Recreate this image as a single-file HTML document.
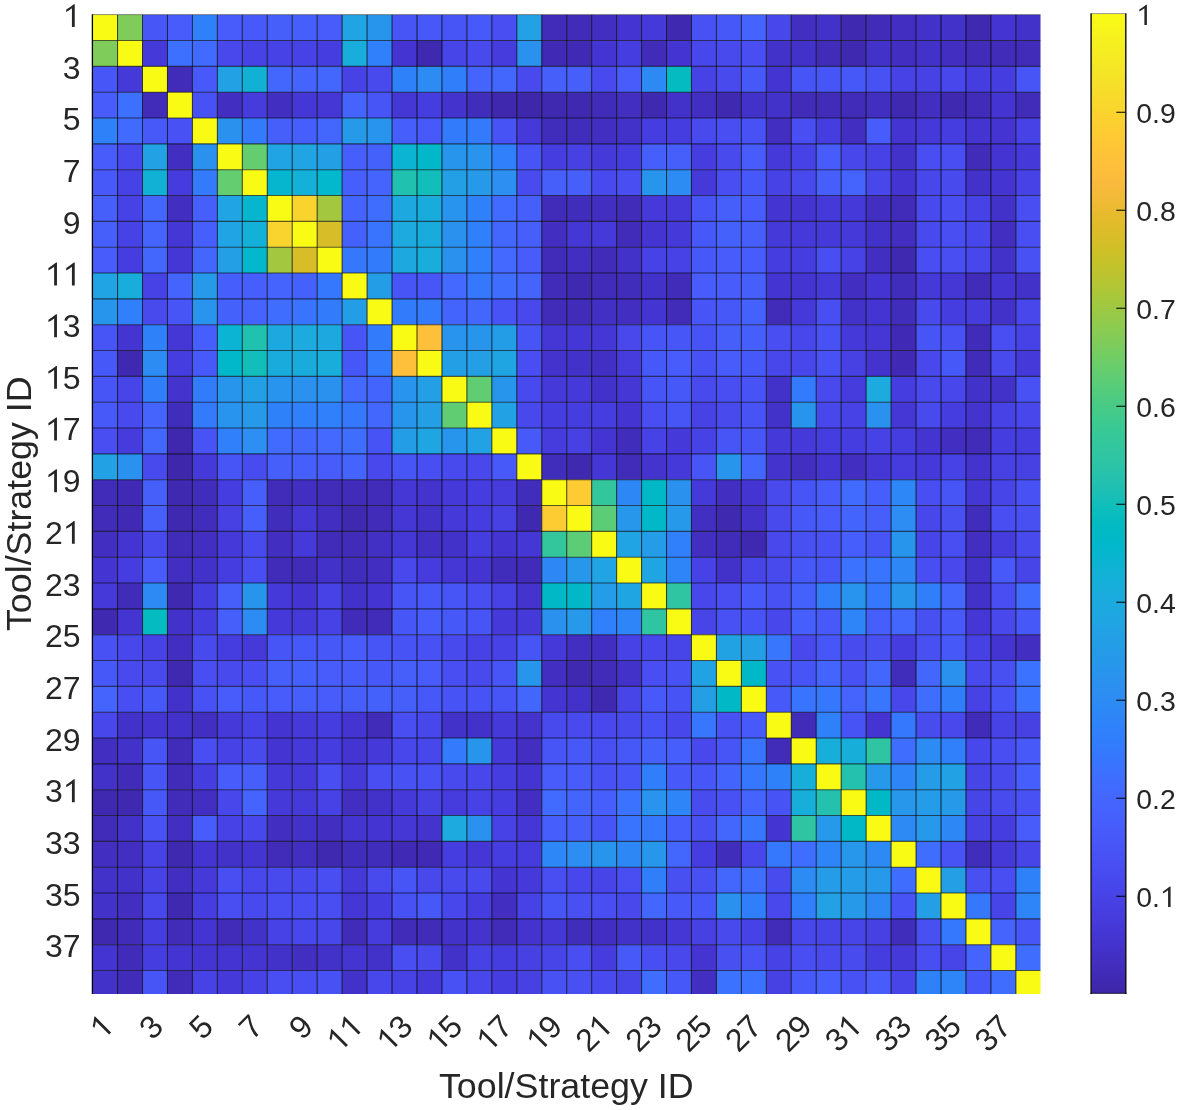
<!DOCTYPE html>
<html><head><meta charset="utf-8"><style>
html,body{margin:0;padding:0;background:#fff;width:1179px;height:1110px;overflow:hidden;position:relative;font-family:"Liberation Sans",sans-serif}
</style></head><body>
<svg width="1179" height="1110" viewBox="0 0 1179 1110" style="position:absolute;left:0;top:0;will-change:transform" font-family="Liberation Sans, sans-serif"><defs><linearGradient id="cb" x1="0" y1="1" x2="0" y2="0"><stop offset="0.0000" stop-color="#3e26a8"/><stop offset="0.0159" stop-color="#402ab4"/><stop offset="0.0317" stop-color="#422ec0"/><stop offset="0.0476" stop-color="#4332cb"/><stop offset="0.0635" stop-color="#4537d5"/><stop offset="0.0794" stop-color="#463cde"/><stop offset="0.0952" stop-color="#4741e5"/><stop offset="0.1111" stop-color="#4747eb"/><stop offset="0.1270" stop-color="#484df0"/><stop offset="0.1429" stop-color="#4852f4"/><stop offset="0.1587" stop-color="#4758f8"/><stop offset="0.1746" stop-color="#465efb"/><stop offset="0.1905" stop-color="#4563fd"/><stop offset="0.2063" stop-color="#4269fe"/><stop offset="0.2222" stop-color="#3e6fff"/><stop offset="0.2381" stop-color="#3875fe"/><stop offset="0.2540" stop-color="#327cfc"/><stop offset="0.2698" stop-color="#2f81fa"/><stop offset="0.2857" stop-color="#2e87f7"/><stop offset="0.3016" stop-color="#2d8cf3"/><stop offset="0.3175" stop-color="#2b91ef"/><stop offset="0.3333" stop-color="#2797eb"/><stop offset="0.3492" stop-color="#259be8"/><stop offset="0.3651" stop-color="#23a0e5"/><stop offset="0.3810" stop-color="#20a5e3"/><stop offset="0.3968" stop-color="#1ca9df"/><stop offset="0.4127" stop-color="#18addb"/><stop offset="0.4286" stop-color="#12b1d6"/><stop offset="0.4444" stop-color="#08b5d0"/><stop offset="0.4603" stop-color="#01b8ca"/><stop offset="0.4762" stop-color="#02bac3"/><stop offset="0.4921" stop-color="#0bbdbd"/><stop offset="0.5079" stop-color="#19bfb6"/><stop offset="0.5238" stop-color="#24c1ae"/><stop offset="0.5397" stop-color="#2cc4a7"/><stop offset="0.5556" stop-color="#31c69f"/><stop offset="0.5714" stop-color="#37c897"/><stop offset="0.5873" stop-color="#3fca8e"/><stop offset="0.6032" stop-color="#4acb84"/><stop offset="0.6190" stop-color="#57cc7a"/><stop offset="0.6349" stop-color="#64cd6f"/><stop offset="0.6508" stop-color="#72cd64"/><stop offset="0.6667" stop-color="#81cc59"/><stop offset="0.6825" stop-color="#8fcb4e"/><stop offset="0.6984" stop-color="#9dc943"/><stop offset="0.7143" stop-color="#abc739"/><stop offset="0.7302" stop-color="#b9c431"/><stop offset="0.7460" stop-color="#c5c22a"/><stop offset="0.7619" stop-color="#d1bf27"/><stop offset="0.7778" stop-color="#dcbd29"/><stop offset="0.7937" stop-color="#e6bb2d"/><stop offset="0.8095" stop-color="#f0ba36"/><stop offset="0.8254" stop-color="#f8ba3d"/><stop offset="0.8413" stop-color="#febe3c"/><stop offset="0.8571" stop-color="#fec338"/><stop offset="0.8730" stop-color="#fec934"/><stop offset="0.8889" stop-color="#fccf30"/><stop offset="0.9048" stop-color="#fad62d"/><stop offset="0.9206" stop-color="#f7dc2a"/><stop offset="0.9365" stop-color="#f5e327"/><stop offset="0.9524" stop-color="#f5e924"/><stop offset="0.9683" stop-color="#f6ef20"/><stop offset="0.9841" stop-color="#f7f51b"/><stop offset="1.0000" stop-color="#f9fb15"/></linearGradient><clipPath id="gc"><rect x="92" y="14.5" width="948.60" height="979.40"/></clipPath></defs><g clip-path="url(#gc)"><rect x="92.30" y="14.70" width="25.31" height="25.89" fill="#f9fb15"/><rect x="117.55" y="14.70" width="25.01" height="25.89" fill="#7fcc5a"/><rect x="142.51" y="14.70" width="25.01" height="25.89" fill="#4757f7"/><rect x="167.46" y="14.70" width="25.01" height="25.89" fill="#475cfa"/><rect x="192.41" y="14.70" width="25.01" height="25.89" fill="#2f81fa"/><rect x="217.37" y="14.70" width="25.01" height="25.89" fill="#475cfa"/><rect x="242.32" y="14.70" width="25.01" height="25.89" fill="#475af9"/><rect x="267.27" y="14.70" width="25.01" height="25.89" fill="#465ffb"/><rect x="292.22" y="14.70" width="25.01" height="25.89" fill="#465ffb"/><rect x="317.18" y="14.70" width="25.01" height="25.89" fill="#475cfa"/><rect x="342.13" y="14.70" width="25.01" height="25.89" fill="#20a4e3"/><rect x="367.08" y="14.70" width="25.01" height="25.89" fill="#2895ec"/><rect x="392.04" y="14.70" width="25.01" height="25.89" fill="#4755f6"/><rect x="416.99" y="14.70" width="25.01" height="25.89" fill="#4758f8"/><rect x="441.94" y="14.70" width="25.01" height="25.89" fill="#4755f6"/><rect x="466.89" y="14.70" width="25.01" height="25.89" fill="#475af9"/><rect x="491.85" y="14.70" width="25.01" height="25.89" fill="#484ef1"/><rect x="516.80" y="14.70" width="25.01" height="25.89" fill="#22a1e4"/><rect x="541.75" y="14.70" width="25.01" height="25.89" fill="#412cb9"/><rect x="566.71" y="14.70" width="25.01" height="25.89" fill="#412cb9"/><rect x="591.66" y="14.70" width="25.01" height="25.89" fill="#422ec0"/><rect x="616.61" y="14.70" width="25.01" height="25.89" fill="#4435d2"/><rect x="641.57" y="14.70" width="25.01" height="25.89" fill="#4639d9"/><rect x="666.52" y="14.70" width="25.01" height="25.89" fill="#3f29b1"/><rect x="691.47" y="14.70" width="25.01" height="25.89" fill="#4851f4"/><rect x="716.42" y="14.70" width="25.01" height="25.89" fill="#4758f8"/><rect x="741.38" y="14.70" width="25.01" height="25.89" fill="#4563fd"/><rect x="766.33" y="14.70" width="25.01" height="25.89" fill="#4747eb"/><rect x="791.28" y="14.70" width="25.01" height="25.89" fill="#422ec0"/><rect x="816.24" y="14.70" width="25.01" height="25.89" fill="#4332c9"/><rect x="841.19" y="14.70" width="25.01" height="25.89" fill="#3f29b1"/><rect x="866.14" y="14.70" width="25.01" height="25.89" fill="#412cb9"/><rect x="891.10" y="14.70" width="25.01" height="25.89" fill="#422ec0"/><rect x="916.05" y="14.70" width="25.01" height="25.89" fill="#4332c9"/><rect x="941.00" y="14.70" width="25.01" height="25.89" fill="#4332c9"/><rect x="965.96" y="14.70" width="25.01" height="25.89" fill="#3f29b1"/><rect x="990.91" y="14.70" width="25.01" height="25.89" fill="#4435d2"/><rect x="1015.86" y="14.70" width="25.01" height="25.89" fill="#4332c9"/><rect x="92.30" y="40.53" width="25.31" height="25.89" fill="#7fcc5a"/><rect x="117.55" y="40.53" width="25.01" height="25.89" fill="#f9fb15"/><rect x="142.51" y="40.53" width="25.01" height="25.89" fill="#4639d9"/><rect x="167.46" y="40.53" width="25.01" height="25.89" fill="#3d70ff"/><rect x="192.41" y="40.53" width="25.01" height="25.89" fill="#416bfe"/><rect x="217.37" y="40.53" width="25.01" height="25.89" fill="#4848ec"/><rect x="242.32" y="40.53" width="25.01" height="25.89" fill="#4742e6"/><rect x="267.27" y="40.53" width="25.01" height="25.89" fill="#4742e6"/><rect x="292.22" y="40.53" width="25.01" height="25.89" fill="#4742e6"/><rect x="317.18" y="40.53" width="25.01" height="25.89" fill="#463de0"/><rect x="342.13" y="40.53" width="25.01" height="25.89" fill="#19addc"/><rect x="367.08" y="40.53" width="25.01" height="25.89" fill="#3080fb"/><rect x="392.04" y="40.53" width="25.01" height="25.89" fill="#4435d2"/><rect x="416.99" y="40.53" width="25.01" height="25.89" fill="#3f29b1"/><rect x="441.94" y="40.53" width="25.01" height="25.89" fill="#4744e8"/><rect x="466.89" y="40.53" width="25.01" height="25.89" fill="#484aee"/><rect x="491.85" y="40.53" width="25.01" height="25.89" fill="#463bdd"/><rect x="516.80" y="40.53" width="25.01" height="25.89" fill="#2b91ef"/><rect x="541.75" y="40.53" width="25.01" height="25.89" fill="#402ab5"/><rect x="566.71" y="40.53" width="25.01" height="25.89" fill="#402ab5"/><rect x="591.66" y="40.53" width="25.01" height="25.89" fill="#4435d2"/><rect x="616.61" y="40.53" width="25.01" height="25.89" fill="#463de0"/><rect x="641.57" y="40.53" width="25.01" height="25.89" fill="#412cb9"/><rect x="666.52" y="40.53" width="25.01" height="25.89" fill="#4435d2"/><rect x="691.47" y="40.53" width="25.01" height="25.89" fill="#4747eb"/><rect x="716.42" y="40.53" width="25.01" height="25.89" fill="#484aee"/><rect x="741.38" y="40.53" width="25.01" height="25.89" fill="#484ef1"/><rect x="766.33" y="40.53" width="25.01" height="25.89" fill="#4332c9"/><rect x="791.28" y="40.53" width="25.01" height="25.89" fill="#4332c9"/><rect x="816.24" y="40.53" width="25.01" height="25.89" fill="#412cb9"/><rect x="841.19" y="40.53" width="25.01" height="25.89" fill="#3f29b1"/><rect x="866.14" y="40.53" width="25.01" height="25.89" fill="#4332c9"/><rect x="891.10" y="40.53" width="25.01" height="25.89" fill="#422ec0"/><rect x="916.05" y="40.53" width="25.01" height="25.89" fill="#4332c9"/><rect x="941.00" y="40.53" width="25.01" height="25.89" fill="#422ec0"/><rect x="965.96" y="40.53" width="25.01" height="25.89" fill="#412cb9"/><rect x="990.91" y="40.53" width="25.01" height="25.89" fill="#412cb9"/><rect x="1015.86" y="40.53" width="25.01" height="25.89" fill="#412cb9"/><rect x="92.30" y="66.37" width="25.31" height="25.89" fill="#4757f7"/><rect x="117.55" y="66.37" width="25.01" height="25.89" fill="#4639d9"/><rect x="142.51" y="66.37" width="25.01" height="25.89" fill="#f9fb15"/><rect x="167.46" y="66.37" width="25.01" height="25.89" fill="#412cb9"/><rect x="192.41" y="66.37" width="25.01" height="25.89" fill="#475af9"/><rect x="217.37" y="66.37" width="25.01" height="25.89" fill="#22a1e4"/><rect x="242.32" y="66.37" width="25.01" height="25.89" fill="#11b1d6"/><rect x="267.27" y="66.37" width="25.01" height="25.89" fill="#4367fd"/><rect x="292.22" y="66.37" width="25.01" height="25.89" fill="#4563fd"/><rect x="317.18" y="66.37" width="25.01" height="25.89" fill="#4367fd"/><rect x="342.13" y="66.37" width="25.01" height="25.89" fill="#4742e6"/><rect x="367.08" y="66.37" width="25.01" height="25.89" fill="#484aee"/><rect x="392.04" y="66.37" width="25.01" height="25.89" fill="#2f81fa"/><rect x="416.99" y="66.37" width="25.01" height="25.89" fill="#2d8cf3"/><rect x="441.94" y="66.37" width="25.01" height="25.89" fill="#317efb"/><rect x="466.89" y="66.37" width="25.01" height="25.89" fill="#4563fd"/><rect x="491.85" y="66.37" width="25.01" height="25.89" fill="#4367fd"/><rect x="516.80" y="66.37" width="25.01" height="25.89" fill="#484aee"/><rect x="541.75" y="66.37" width="25.01" height="25.89" fill="#465ffb"/><rect x="566.71" y="66.37" width="25.01" height="25.89" fill="#465ffb"/><rect x="591.66" y="66.37" width="25.01" height="25.89" fill="#484aee"/><rect x="616.61" y="66.37" width="25.01" height="25.89" fill="#475cfa"/><rect x="641.57" y="66.37" width="25.01" height="25.89" fill="#2d8af4"/><rect x="666.52" y="66.37" width="25.01" height="25.89" fill="#04bbc2"/><rect x="691.47" y="66.37" width="25.01" height="25.89" fill="#4742e6"/><rect x="716.42" y="66.37" width="25.01" height="25.89" fill="#484aee"/><rect x="741.38" y="66.37" width="25.01" height="25.89" fill="#4758f8"/><rect x="766.33" y="66.37" width="25.01" height="25.89" fill="#4435d2"/><rect x="791.28" y="66.37" width="25.01" height="25.89" fill="#4755f6"/><rect x="816.24" y="66.37" width="25.01" height="25.89" fill="#4755f6"/><rect x="841.19" y="66.37" width="25.01" height="25.89" fill="#4758f8"/><rect x="866.14" y="66.37" width="25.01" height="25.89" fill="#4851f4"/><rect x="891.10" y="66.37" width="25.01" height="25.89" fill="#4742e6"/><rect x="916.05" y="66.37" width="25.01" height="25.89" fill="#4742e6"/><rect x="941.00" y="66.37" width="25.01" height="25.89" fill="#4747eb"/><rect x="965.96" y="66.37" width="25.01" height="25.89" fill="#463de0"/><rect x="990.91" y="66.37" width="25.01" height="25.89" fill="#463de0"/><rect x="1015.86" y="66.37" width="25.01" height="25.89" fill="#4755f6"/><rect x="92.30" y="92.20" width="25.31" height="25.89" fill="#475cfa"/><rect x="117.55" y="92.20" width="25.01" height="25.89" fill="#3d70ff"/><rect x="142.51" y="92.20" width="25.01" height="25.89" fill="#412cb9"/><rect x="167.46" y="92.20" width="25.01" height="25.89" fill="#f9fb15"/><rect x="192.41" y="92.20" width="25.01" height="25.89" fill="#4851f4"/><rect x="217.37" y="92.20" width="25.01" height="25.89" fill="#422ec0"/><rect x="242.32" y="92.20" width="25.01" height="25.89" fill="#463bdd"/><rect x="267.27" y="92.20" width="25.01" height="25.89" fill="#422ec0"/><rect x="292.22" y="92.20" width="25.01" height="25.89" fill="#4537d6"/><rect x="317.18" y="92.20" width="25.01" height="25.89" fill="#4537d6"/><rect x="342.13" y="92.20" width="25.01" height="25.89" fill="#4563fd"/><rect x="367.08" y="92.20" width="25.01" height="25.89" fill="#4755f6"/><rect x="392.04" y="92.20" width="25.01" height="25.89" fill="#4537d6"/><rect x="416.99" y="92.20" width="25.01" height="25.89" fill="#463de0"/><rect x="441.94" y="92.20" width="25.01" height="25.89" fill="#4433cd"/><rect x="466.89" y="92.20" width="25.01" height="25.89" fill="#412dbc"/><rect x="491.85" y="92.20" width="25.01" height="25.89" fill="#3f28ae"/><rect x="516.80" y="92.20" width="25.01" height="25.89" fill="#3e27ab"/><rect x="541.75" y="92.20" width="25.01" height="25.89" fill="#3f29b1"/><rect x="566.71" y="92.20" width="25.01" height="25.89" fill="#3f29b1"/><rect x="591.66" y="92.20" width="25.01" height="25.89" fill="#412cb9"/><rect x="616.61" y="92.20" width="25.01" height="25.89" fill="#422ec0"/><rect x="641.57" y="92.20" width="25.01" height="25.89" fill="#3f29b1"/><rect x="666.52" y="92.20" width="25.01" height="25.89" fill="#4332c9"/><rect x="691.47" y="92.20" width="25.01" height="25.89" fill="#422ec0"/><rect x="716.42" y="92.20" width="25.01" height="25.89" fill="#3f29b1"/><rect x="741.38" y="92.20" width="25.01" height="25.89" fill="#4332c9"/><rect x="766.33" y="92.20" width="25.01" height="25.89" fill="#4332c9"/><rect x="791.28" y="92.20" width="25.01" height="25.89" fill="#412cb9"/><rect x="816.24" y="92.20" width="25.01" height="25.89" fill="#412cb9"/><rect x="841.19" y="92.20" width="25.01" height="25.89" fill="#412cb9"/><rect x="866.14" y="92.20" width="25.01" height="25.89" fill="#422ec0"/><rect x="891.10" y="92.20" width="25.01" height="25.89" fill="#3f29b1"/><rect x="916.05" y="92.20" width="25.01" height="25.89" fill="#422ec0"/><rect x="941.00" y="92.20" width="25.01" height="25.89" fill="#3f29b1"/><rect x="965.96" y="92.20" width="25.01" height="25.89" fill="#412cb9"/><rect x="990.91" y="92.20" width="25.01" height="25.89" fill="#4435d2"/><rect x="1015.86" y="92.20" width="25.01" height="25.89" fill="#412cb9"/><rect x="92.30" y="118.03" width="25.31" height="25.89" fill="#2f81fa"/><rect x="117.55" y="118.03" width="25.01" height="25.89" fill="#416bfe"/><rect x="142.51" y="118.03" width="25.01" height="25.89" fill="#475af9"/><rect x="167.46" y="118.03" width="25.01" height="25.89" fill="#4851f4"/><rect x="192.41" y="118.03" width="25.01" height="25.89" fill="#f9fb15"/><rect x="217.37" y="118.03" width="25.01" height="25.89" fill="#2a92ee"/><rect x="242.32" y="118.03" width="25.01" height="25.89" fill="#347afd"/><rect x="267.27" y="118.03" width="25.01" height="25.89" fill="#465ffb"/><rect x="292.22" y="118.03" width="25.01" height="25.89" fill="#465efb"/><rect x="317.18" y="118.03" width="25.01" height="25.89" fill="#4367fd"/><rect x="342.13" y="118.03" width="25.01" height="25.89" fill="#269ae8"/><rect x="367.08" y="118.03" width="25.01" height="25.89" fill="#2994ed"/><rect x="392.04" y="118.03" width="25.01" height="25.89" fill="#465efb"/><rect x="416.99" y="118.03" width="25.01" height="25.89" fill="#475af9"/><rect x="441.94" y="118.03" width="25.01" height="25.89" fill="#327cfc"/><rect x="466.89" y="118.03" width="25.01" height="25.89" fill="#347afd"/><rect x="491.85" y="118.03" width="25.01" height="25.89" fill="#4853f5"/><rect x="516.80" y="118.03" width="25.01" height="25.89" fill="#4639d9"/><rect x="541.75" y="118.03" width="25.01" height="25.89" fill="#412dbc"/><rect x="566.71" y="118.03" width="25.01" height="25.89" fill="#412dbc"/><rect x="591.66" y="118.03" width="25.01" height="25.89" fill="#422ec0"/><rect x="616.61" y="118.03" width="25.01" height="25.89" fill="#4332c9"/><rect x="641.57" y="118.03" width="25.01" height="25.89" fill="#463de0"/><rect x="666.52" y="118.03" width="25.01" height="25.89" fill="#463de0"/><rect x="691.47" y="118.03" width="25.01" height="25.89" fill="#484aee"/><rect x="716.42" y="118.03" width="25.01" height="25.89" fill="#484ef1"/><rect x="741.38" y="118.03" width="25.01" height="25.89" fill="#4851f4"/><rect x="766.33" y="118.03" width="25.01" height="25.89" fill="#422ec0"/><rect x="791.28" y="118.03" width="25.01" height="25.89" fill="#484ef1"/><rect x="816.24" y="118.03" width="25.01" height="25.89" fill="#463de0"/><rect x="841.19" y="118.03" width="25.01" height="25.89" fill="#422ec0"/><rect x="866.14" y="118.03" width="25.01" height="25.89" fill="#475cfa"/><rect x="891.10" y="118.03" width="25.01" height="25.89" fill="#4435d2"/><rect x="916.05" y="118.03" width="25.01" height="25.89" fill="#4639d9"/><rect x="941.00" y="118.03" width="25.01" height="25.89" fill="#463de0"/><rect x="965.96" y="118.03" width="25.01" height="25.89" fill="#4435d2"/><rect x="990.91" y="118.03" width="25.01" height="25.89" fill="#4435d2"/><rect x="1015.86" y="118.03" width="25.01" height="25.89" fill="#4742e6"/><rect x="92.30" y="143.86" width="25.31" height="25.89" fill="#475cfa"/><rect x="117.55" y="143.86" width="25.01" height="25.89" fill="#4848ec"/><rect x="142.51" y="143.86" width="25.01" height="25.89" fill="#22a1e4"/><rect x="167.46" y="143.86" width="25.01" height="25.89" fill="#422ec0"/><rect x="192.41" y="143.86" width="25.01" height="25.89" fill="#2a92ee"/><rect x="217.37" y="143.86" width="25.01" height="25.89" fill="#f9fb15"/><rect x="242.32" y="143.86" width="25.01" height="25.89" fill="#64cd6f"/><rect x="267.27" y="143.86" width="25.01" height="25.89" fill="#20a4e3"/><rect x="292.22" y="143.86" width="25.01" height="25.89" fill="#20a4e3"/><rect x="317.18" y="143.86" width="25.01" height="25.89" fill="#23a0e5"/><rect x="342.13" y="143.86" width="25.01" height="25.89" fill="#465efb"/><rect x="367.08" y="143.86" width="25.01" height="25.89" fill="#4561fc"/><rect x="392.04" y="143.86" width="25.01" height="25.89" fill="#0ab4d2"/><rect x="416.99" y="143.86" width="25.01" height="25.89" fill="#01b8ca"/><rect x="441.94" y="143.86" width="25.01" height="25.89" fill="#2895ec"/><rect x="466.89" y="143.86" width="25.01" height="25.89" fill="#2994ed"/><rect x="491.85" y="143.86" width="25.01" height="25.89" fill="#3080fb"/><rect x="516.80" y="143.86" width="25.01" height="25.89" fill="#4755f6"/><rect x="541.75" y="143.86" width="25.01" height="25.89" fill="#463de0"/><rect x="566.71" y="143.86" width="25.01" height="25.89" fill="#4740e3"/><rect x="591.66" y="143.86" width="25.01" height="25.89" fill="#4639d9"/><rect x="616.61" y="143.86" width="25.01" height="25.89" fill="#463de0"/><rect x="641.57" y="143.86" width="25.01" height="25.89" fill="#465ffb"/><rect x="666.52" y="143.86" width="25.01" height="25.89" fill="#465ffb"/><rect x="691.47" y="143.86" width="25.01" height="25.89" fill="#463de0"/><rect x="716.42" y="143.86" width="25.01" height="25.89" fill="#484aee"/><rect x="741.38" y="143.86" width="25.01" height="25.89" fill="#475cfa"/><rect x="766.33" y="143.86" width="25.01" height="25.89" fill="#4639d9"/><rect x="791.28" y="143.86" width="25.01" height="25.89" fill="#4742e6"/><rect x="816.24" y="143.86" width="25.01" height="25.89" fill="#475cfa"/><rect x="841.19" y="143.86" width="25.01" height="25.89" fill="#4747eb"/><rect x="866.14" y="143.86" width="25.01" height="25.89" fill="#4742e6"/><rect x="891.10" y="143.86" width="25.01" height="25.89" fill="#4332c9"/><rect x="916.05" y="143.86" width="25.01" height="25.89" fill="#484ef1"/><rect x="941.00" y="143.86" width="25.01" height="25.89" fill="#484ef1"/><rect x="965.96" y="143.86" width="25.01" height="25.89" fill="#412cb9"/><rect x="990.91" y="143.86" width="25.01" height="25.89" fill="#4435d2"/><rect x="1015.86" y="143.86" width="25.01" height="25.89" fill="#4639d9"/><rect x="92.30" y="169.70" width="25.31" height="25.89" fill="#475af9"/><rect x="117.55" y="169.70" width="25.01" height="25.89" fill="#4742e6"/><rect x="142.51" y="169.70" width="25.01" height="25.89" fill="#11b1d6"/><rect x="167.46" y="169.70" width="25.01" height="25.89" fill="#463bdd"/><rect x="192.41" y="169.70" width="25.01" height="25.89" fill="#347afd"/><rect x="217.37" y="169.70" width="25.01" height="25.89" fill="#64cd6f"/><rect x="242.32" y="169.70" width="25.01" height="25.89" fill="#f9fb15"/><rect x="267.27" y="169.70" width="25.01" height="25.89" fill="#05b6ce"/><rect x="292.22" y="169.70" width="25.01" height="25.89" fill="#13b0d7"/><rect x="317.18" y="169.70" width="25.01" height="25.89" fill="#03b7cc"/><rect x="342.13" y="169.70" width="25.01" height="25.89" fill="#465efb"/><rect x="367.08" y="169.70" width="25.01" height="25.89" fill="#4563fd"/><rect x="392.04" y="169.70" width="25.01" height="25.89" fill="#21c1b0"/><rect x="416.99" y="169.70" width="25.01" height="25.89" fill="#12beb9"/><rect x="441.94" y="169.70" width="25.01" height="25.89" fill="#23a0e5"/><rect x="466.89" y="169.70" width="25.01" height="25.89" fill="#269ae8"/><rect x="491.85" y="169.70" width="25.01" height="25.89" fill="#2c8ff1"/><rect x="516.80" y="169.70" width="25.01" height="25.89" fill="#484cef"/><rect x="541.75" y="169.70" width="25.01" height="25.89" fill="#465ffb"/><rect x="566.71" y="169.70" width="25.01" height="25.89" fill="#465ffb"/><rect x="591.66" y="169.70" width="25.01" height="25.89" fill="#484aee"/><rect x="616.61" y="169.70" width="25.01" height="25.89" fill="#484ef1"/><rect x="641.57" y="169.70" width="25.01" height="25.89" fill="#2895ec"/><rect x="666.52" y="169.70" width="25.01" height="25.89" fill="#2d8cf3"/><rect x="691.47" y="169.70" width="25.01" height="25.89" fill="#4639d9"/><rect x="716.42" y="169.70" width="25.01" height="25.89" fill="#484ef1"/><rect x="741.38" y="169.70" width="25.01" height="25.89" fill="#4758f8"/><rect x="766.33" y="169.70" width="25.01" height="25.89" fill="#4742e6"/><rect x="791.28" y="169.70" width="25.01" height="25.89" fill="#484aee"/><rect x="816.24" y="169.70" width="25.01" height="25.89" fill="#465ffb"/><rect x="841.19" y="169.70" width="25.01" height="25.89" fill="#4563fd"/><rect x="866.14" y="169.70" width="25.01" height="25.89" fill="#4747eb"/><rect x="891.10" y="169.70" width="25.01" height="25.89" fill="#4435d2"/><rect x="916.05" y="169.70" width="25.01" height="25.89" fill="#4747eb"/><rect x="941.00" y="169.70" width="25.01" height="25.89" fill="#484aee"/><rect x="965.96" y="169.70" width="25.01" height="25.89" fill="#4332c9"/><rect x="990.91" y="169.70" width="25.01" height="25.89" fill="#4435d2"/><rect x="1015.86" y="169.70" width="25.01" height="25.89" fill="#4742e6"/><rect x="92.30" y="195.53" width="25.31" height="25.89" fill="#465ffb"/><rect x="117.55" y="195.53" width="25.01" height="25.89" fill="#4742e6"/><rect x="142.51" y="195.53" width="25.01" height="25.89" fill="#4367fd"/><rect x="167.46" y="195.53" width="25.01" height="25.89" fill="#422ec0"/><rect x="192.41" y="195.53" width="25.01" height="25.89" fill="#465ffb"/><rect x="217.37" y="195.53" width="25.01" height="25.89" fill="#20a4e3"/><rect x="242.32" y="195.53" width="25.01" height="25.89" fill="#05b6ce"/><rect x="267.27" y="195.53" width="25.01" height="25.89" fill="#f9fb15"/><rect x="292.22" y="195.53" width="25.01" height="25.89" fill="#fad42e"/><rect x="317.18" y="195.53" width="25.01" height="25.89" fill="#a3c83f"/><rect x="342.13" y="195.53" width="25.01" height="25.89" fill="#4563fd"/><rect x="367.08" y="195.53" width="25.01" height="25.89" fill="#3f6eff"/><rect x="392.04" y="195.53" width="25.01" height="25.89" fill="#1da9e0"/><rect x="416.99" y="195.53" width="25.01" height="25.89" fill="#1aabdd"/><rect x="441.94" y="195.53" width="25.01" height="25.89" fill="#2994ed"/><rect x="466.89" y="195.53" width="25.01" height="25.89" fill="#2f81fa"/><rect x="491.85" y="195.53" width="25.01" height="25.89" fill="#416bfe"/><rect x="516.80" y="195.53" width="25.01" height="25.89" fill="#465ffb"/><rect x="541.75" y="195.53" width="25.01" height="25.89" fill="#412cb9"/><rect x="566.71" y="195.53" width="25.01" height="25.89" fill="#412dbc"/><rect x="591.66" y="195.53" width="25.01" height="25.89" fill="#422ec0"/><rect x="616.61" y="195.53" width="25.01" height="25.89" fill="#412cb9"/><rect x="641.57" y="195.53" width="25.01" height="25.89" fill="#4639d9"/><rect x="666.52" y="195.53" width="25.01" height="25.89" fill="#4639d9"/><rect x="691.47" y="195.53" width="25.01" height="25.89" fill="#4755f6"/><rect x="716.42" y="195.53" width="25.01" height="25.89" fill="#465ffb"/><rect x="741.38" y="195.53" width="25.01" height="25.89" fill="#475cfa"/><rect x="766.33" y="195.53" width="25.01" height="25.89" fill="#4435d2"/><rect x="791.28" y="195.53" width="25.01" height="25.89" fill="#4435d2"/><rect x="816.24" y="195.53" width="25.01" height="25.89" fill="#4639d9"/><rect x="841.19" y="195.53" width="25.01" height="25.89" fill="#4639d9"/><rect x="866.14" y="195.53" width="25.01" height="25.89" fill="#422ec0"/><rect x="891.10" y="195.53" width="25.01" height="25.89" fill="#412cb9"/><rect x="916.05" y="195.53" width="25.01" height="25.89" fill="#484aee"/><rect x="941.00" y="195.53" width="25.01" height="25.89" fill="#484ef1"/><rect x="965.96" y="195.53" width="25.01" height="25.89" fill="#4742e6"/><rect x="990.91" y="195.53" width="25.01" height="25.89" fill="#4332c9"/><rect x="1015.86" y="195.53" width="25.01" height="25.89" fill="#484ef1"/><rect x="92.30" y="221.36" width="25.31" height="25.89" fill="#465ffb"/><rect x="117.55" y="221.36" width="25.01" height="25.89" fill="#4742e6"/><rect x="142.51" y="221.36" width="25.01" height="25.89" fill="#4563fd"/><rect x="167.46" y="221.36" width="25.01" height="25.89" fill="#4537d6"/><rect x="192.41" y="221.36" width="25.01" height="25.89" fill="#465efb"/><rect x="217.37" y="221.36" width="25.01" height="25.89" fill="#20a4e3"/><rect x="242.32" y="221.36" width="25.01" height="25.89" fill="#13b0d7"/><rect x="267.27" y="221.36" width="25.01" height="25.89" fill="#fad42e"/><rect x="292.22" y="221.36" width="25.01" height="25.89" fill="#f9fb15"/><rect x="317.18" y="221.36" width="25.01" height="25.89" fill="#d7be28"/><rect x="342.13" y="221.36" width="25.01" height="25.89" fill="#4561fc"/><rect x="367.08" y="221.36" width="25.01" height="25.89" fill="#3974fe"/><rect x="392.04" y="221.36" width="25.01" height="25.89" fill="#1caadf"/><rect x="416.99" y="221.36" width="25.01" height="25.89" fill="#1aabdd"/><rect x="441.94" y="221.36" width="25.01" height="25.89" fill="#2a92ee"/><rect x="466.89" y="221.36" width="25.01" height="25.89" fill="#3080fb"/><rect x="491.85" y="221.36" width="25.01" height="25.89" fill="#4367fd"/><rect x="516.80" y="221.36" width="25.01" height="25.89" fill="#465ffb"/><rect x="541.75" y="221.36" width="25.01" height="25.89" fill="#422ec0"/><rect x="566.71" y="221.36" width="25.01" height="25.89" fill="#4537d6"/><rect x="591.66" y="221.36" width="25.01" height="25.89" fill="#4639d9"/><rect x="616.61" y="221.36" width="25.01" height="25.89" fill="#412cb9"/><rect x="641.57" y="221.36" width="25.01" height="25.89" fill="#4435d2"/><rect x="666.52" y="221.36" width="25.01" height="25.89" fill="#4639d9"/><rect x="691.47" y="221.36" width="25.01" height="25.89" fill="#4758f8"/><rect x="716.42" y="221.36" width="25.01" height="25.89" fill="#4561fc"/><rect x="741.38" y="221.36" width="25.01" height="25.89" fill="#465ffb"/><rect x="766.33" y="221.36" width="25.01" height="25.89" fill="#4639d9"/><rect x="791.28" y="221.36" width="25.01" height="25.89" fill="#4639d9"/><rect x="816.24" y="221.36" width="25.01" height="25.89" fill="#4639d9"/><rect x="841.19" y="221.36" width="25.01" height="25.89" fill="#4639d9"/><rect x="866.14" y="221.36" width="25.01" height="25.89" fill="#4332c9"/><rect x="891.10" y="221.36" width="25.01" height="25.89" fill="#422ec0"/><rect x="916.05" y="221.36" width="25.01" height="25.89" fill="#484aee"/><rect x="941.00" y="221.36" width="25.01" height="25.89" fill="#484ef1"/><rect x="965.96" y="221.36" width="25.01" height="25.89" fill="#4747eb"/><rect x="990.91" y="221.36" width="25.01" height="25.89" fill="#422ec0"/><rect x="1015.86" y="221.36" width="25.01" height="25.89" fill="#484ef1"/><rect x="92.30" y="247.20" width="25.31" height="25.89" fill="#475cfa"/><rect x="117.55" y="247.20" width="25.01" height="25.89" fill="#463de0"/><rect x="142.51" y="247.20" width="25.01" height="25.89" fill="#4367fd"/><rect x="167.46" y="247.20" width="25.01" height="25.89" fill="#4537d6"/><rect x="192.41" y="247.20" width="25.01" height="25.89" fill="#4367fd"/><rect x="217.37" y="247.20" width="25.01" height="25.89" fill="#23a0e5"/><rect x="242.32" y="247.20" width="25.01" height="25.89" fill="#03b7cc"/><rect x="267.27" y="247.20" width="25.01" height="25.89" fill="#a3c83f"/><rect x="292.22" y="247.20" width="25.01" height="25.89" fill="#d7be28"/><rect x="317.18" y="247.20" width="25.01" height="25.89" fill="#f9fb15"/><rect x="342.13" y="247.20" width="25.01" height="25.89" fill="#3678fd"/><rect x="367.08" y="247.20" width="25.01" height="25.89" fill="#327cfc"/><rect x="392.04" y="247.20" width="25.01" height="25.89" fill="#1da9e0"/><rect x="416.99" y="247.20" width="25.01" height="25.89" fill="#19addc"/><rect x="441.94" y="247.20" width="25.01" height="25.89" fill="#2b91ef"/><rect x="466.89" y="247.20" width="25.01" height="25.89" fill="#3080fb"/><rect x="491.85" y="247.20" width="25.01" height="25.89" fill="#4369fe"/><rect x="516.80" y="247.20" width="25.01" height="25.89" fill="#475cfa"/><rect x="541.75" y="247.20" width="25.01" height="25.89" fill="#412cb9"/><rect x="566.71" y="247.20" width="25.01" height="25.89" fill="#422ec0"/><rect x="591.66" y="247.20" width="25.01" height="25.89" fill="#412cb9"/><rect x="616.61" y="247.20" width="25.01" height="25.89" fill="#4332c9"/><rect x="641.57" y="247.20" width="25.01" height="25.89" fill="#4742e6"/><rect x="666.52" y="247.20" width="25.01" height="25.89" fill="#4742e6"/><rect x="691.47" y="247.20" width="25.01" height="25.89" fill="#4758f8"/><rect x="716.42" y="247.20" width="25.01" height="25.89" fill="#475cfa"/><rect x="741.38" y="247.20" width="25.01" height="25.89" fill="#475cfa"/><rect x="766.33" y="247.20" width="25.01" height="25.89" fill="#463de0"/><rect x="791.28" y="247.20" width="25.01" height="25.89" fill="#463de0"/><rect x="816.24" y="247.20" width="25.01" height="25.89" fill="#484ef1"/><rect x="841.19" y="247.20" width="25.01" height="25.89" fill="#4742e6"/><rect x="866.14" y="247.20" width="25.01" height="25.89" fill="#422ec0"/><rect x="891.10" y="247.20" width="25.01" height="25.89" fill="#3f29b1"/><rect x="916.05" y="247.20" width="25.01" height="25.89" fill="#484ef1"/><rect x="941.00" y="247.20" width="25.01" height="25.89" fill="#484ef1"/><rect x="965.96" y="247.20" width="25.01" height="25.89" fill="#4747eb"/><rect x="990.91" y="247.20" width="25.01" height="25.89" fill="#4332c9"/><rect x="1015.86" y="247.20" width="25.01" height="25.89" fill="#4851f4"/><rect x="92.30" y="273.03" width="25.31" height="25.89" fill="#20a4e3"/><rect x="117.55" y="273.03" width="25.01" height="25.89" fill="#19addc"/><rect x="142.51" y="273.03" width="25.01" height="25.89" fill="#4742e6"/><rect x="167.46" y="273.03" width="25.01" height="25.89" fill="#4563fd"/><rect x="192.41" y="273.03" width="25.01" height="25.89" fill="#269ae8"/><rect x="217.37" y="273.03" width="25.01" height="25.89" fill="#465efb"/><rect x="242.32" y="273.03" width="25.01" height="25.89" fill="#465efb"/><rect x="267.27" y="273.03" width="25.01" height="25.89" fill="#4563fd"/><rect x="292.22" y="273.03" width="25.01" height="25.89" fill="#4561fc"/><rect x="317.18" y="273.03" width="25.01" height="25.89" fill="#3678fd"/><rect x="342.13" y="273.03" width="25.01" height="25.89" fill="#f9fb15"/><rect x="367.08" y="273.03" width="25.01" height="25.89" fill="#249de7"/><rect x="392.04" y="273.03" width="25.01" height="25.89" fill="#4755f6"/><rect x="416.99" y="273.03" width="25.01" height="25.89" fill="#4757f7"/><rect x="441.94" y="273.03" width="25.01" height="25.89" fill="#4369fe"/><rect x="466.89" y="273.03" width="25.01" height="25.89" fill="#3678fd"/><rect x="491.85" y="273.03" width="25.01" height="25.89" fill="#3f6eff"/><rect x="516.80" y="273.03" width="25.01" height="25.89" fill="#4563fd"/><rect x="541.75" y="273.03" width="25.01" height="25.89" fill="#412cb9"/><rect x="566.71" y="273.03" width="25.01" height="25.89" fill="#3f29b1"/><rect x="591.66" y="273.03" width="25.01" height="25.89" fill="#412cb9"/><rect x="616.61" y="273.03" width="25.01" height="25.89" fill="#412dbc"/><rect x="641.57" y="273.03" width="25.01" height="25.89" fill="#4332c9"/><rect x="666.52" y="273.03" width="25.01" height="25.89" fill="#412cb9"/><rect x="691.47" y="273.03" width="25.01" height="25.89" fill="#475cfa"/><rect x="716.42" y="273.03" width="25.01" height="25.89" fill="#475cfa"/><rect x="741.38" y="273.03" width="25.01" height="25.89" fill="#465ffb"/><rect x="766.33" y="273.03" width="25.01" height="25.89" fill="#4435d2"/><rect x="791.28" y="273.03" width="25.01" height="25.89" fill="#4435d2"/><rect x="816.24" y="273.03" width="25.01" height="25.89" fill="#4639d9"/><rect x="841.19" y="273.03" width="25.01" height="25.89" fill="#422ec0"/><rect x="866.14" y="273.03" width="25.01" height="25.89" fill="#4435d2"/><rect x="891.10" y="273.03" width="25.01" height="25.89" fill="#412dbc"/><rect x="916.05" y="273.03" width="25.01" height="25.89" fill="#4639d9"/><rect x="941.00" y="273.03" width="25.01" height="25.89" fill="#4537d6"/><rect x="965.96" y="273.03" width="25.01" height="25.89" fill="#412cb9"/><rect x="990.91" y="273.03" width="25.01" height="25.89" fill="#4435d2"/><rect x="1015.86" y="273.03" width="25.01" height="25.89" fill="#4332c9"/><rect x="92.30" y="298.86" width="25.31" height="25.89" fill="#2895ec"/><rect x="117.55" y="298.86" width="25.01" height="25.89" fill="#3080fb"/><rect x="142.51" y="298.86" width="25.01" height="25.89" fill="#484aee"/><rect x="167.46" y="298.86" width="25.01" height="25.89" fill="#4755f6"/><rect x="192.41" y="298.86" width="25.01" height="25.89" fill="#2994ed"/><rect x="217.37" y="298.86" width="25.01" height="25.89" fill="#4561fc"/><rect x="242.32" y="298.86" width="25.01" height="25.89" fill="#4563fd"/><rect x="267.27" y="298.86" width="25.01" height="25.89" fill="#3f6eff"/><rect x="292.22" y="298.86" width="25.01" height="25.89" fill="#3974fe"/><rect x="317.18" y="298.86" width="25.01" height="25.89" fill="#327cfc"/><rect x="342.13" y="298.86" width="25.01" height="25.89" fill="#249de7"/><rect x="367.08" y="298.86" width="25.01" height="25.89" fill="#f9fb15"/><rect x="392.04" y="298.86" width="25.01" height="25.89" fill="#327cfc"/><rect x="416.99" y="298.86" width="25.01" height="25.89" fill="#347afd"/><rect x="441.94" y="298.86" width="25.01" height="25.89" fill="#4465fd"/><rect x="466.89" y="298.86" width="25.01" height="25.89" fill="#4367fd"/><rect x="491.85" y="298.86" width="25.01" height="25.89" fill="#4853f5"/><rect x="516.80" y="298.86" width="25.01" height="25.89" fill="#4848ec"/><rect x="541.75" y="298.86" width="25.01" height="25.89" fill="#412cb9"/><rect x="566.71" y="298.86" width="25.01" height="25.89" fill="#412cb9"/><rect x="591.66" y="298.86" width="25.01" height="25.89" fill="#4230c4"/><rect x="616.61" y="298.86" width="25.01" height="25.89" fill="#422ec0"/><rect x="641.57" y="298.86" width="25.01" height="25.89" fill="#4435d2"/><rect x="666.52" y="298.86" width="25.01" height="25.89" fill="#412cb9"/><rect x="691.47" y="298.86" width="25.01" height="25.89" fill="#4755f6"/><rect x="716.42" y="298.86" width="25.01" height="25.89" fill="#4758f8"/><rect x="741.38" y="298.86" width="25.01" height="25.89" fill="#4561fc"/><rect x="766.33" y="298.86" width="25.01" height="25.89" fill="#412cb9"/><rect x="791.28" y="298.86" width="25.01" height="25.89" fill="#4639d9"/><rect x="816.24" y="298.86" width="25.01" height="25.89" fill="#484ef1"/><rect x="841.19" y="298.86" width="25.01" height="25.89" fill="#4332c9"/><rect x="866.14" y="298.86" width="25.01" height="25.89" fill="#4435d2"/><rect x="891.10" y="298.86" width="25.01" height="25.89" fill="#412dbc"/><rect x="916.05" y="298.86" width="25.01" height="25.89" fill="#484aee"/><rect x="941.00" y="298.86" width="25.01" height="25.89" fill="#463de0"/><rect x="965.96" y="298.86" width="25.01" height="25.89" fill="#463bdd"/><rect x="990.91" y="298.86" width="25.01" height="25.89" fill="#4332c9"/><rect x="1015.86" y="298.86" width="25.01" height="25.89" fill="#4747eb"/><rect x="92.30" y="324.70" width="25.31" height="25.89" fill="#4755f6"/><rect x="117.55" y="324.70" width="25.01" height="25.89" fill="#4435d2"/><rect x="142.51" y="324.70" width="25.01" height="25.89" fill="#2f81fa"/><rect x="167.46" y="324.70" width="25.01" height="25.89" fill="#4537d6"/><rect x="192.41" y="324.70" width="25.01" height="25.89" fill="#465efb"/><rect x="217.37" y="324.70" width="25.01" height="25.89" fill="#0ab4d2"/><rect x="242.32" y="324.70" width="25.01" height="25.89" fill="#21c1b0"/><rect x="267.27" y="324.70" width="25.01" height="25.89" fill="#1da9e0"/><rect x="292.22" y="324.70" width="25.01" height="25.89" fill="#1caadf"/><rect x="317.18" y="324.70" width="25.01" height="25.89" fill="#1da9e0"/><rect x="342.13" y="324.70" width="25.01" height="25.89" fill="#4755f6"/><rect x="367.08" y="324.70" width="25.01" height="25.89" fill="#327cfc"/><rect x="392.04" y="324.70" width="25.01" height="25.89" fill="#f9fb15"/><rect x="416.99" y="324.70" width="25.01" height="25.89" fill="#febf3b"/><rect x="441.94" y="324.70" width="25.01" height="25.89" fill="#2994ed"/><rect x="466.89" y="324.70" width="25.01" height="25.89" fill="#2895ec"/><rect x="491.85" y="324.70" width="25.01" height="25.89" fill="#249de7"/><rect x="516.80" y="324.70" width="25.01" height="25.89" fill="#4755f6"/><rect x="541.75" y="324.70" width="25.01" height="25.89" fill="#4537d6"/><rect x="566.71" y="324.70" width="25.01" height="25.89" fill="#4537d6"/><rect x="591.66" y="324.70" width="25.01" height="25.89" fill="#4537d6"/><rect x="616.61" y="324.70" width="25.01" height="25.89" fill="#4848ec"/><rect x="641.57" y="324.70" width="25.01" height="25.89" fill="#4755f6"/><rect x="666.52" y="324.70" width="25.01" height="25.89" fill="#4757f7"/><rect x="691.47" y="324.70" width="25.01" height="25.89" fill="#4853f5"/><rect x="716.42" y="324.70" width="25.01" height="25.89" fill="#465ffb"/><rect x="741.38" y="324.70" width="25.01" height="25.89" fill="#465ffb"/><rect x="766.33" y="324.70" width="25.01" height="25.89" fill="#484ef1"/><rect x="791.28" y="324.70" width="25.01" height="25.89" fill="#4747eb"/><rect x="816.24" y="324.70" width="25.01" height="25.89" fill="#4851f4"/><rect x="841.19" y="324.70" width="25.01" height="25.89" fill="#4639d9"/><rect x="866.14" y="324.70" width="25.01" height="25.89" fill="#4537d6"/><rect x="891.10" y="324.70" width="25.01" height="25.89" fill="#402ab5"/><rect x="916.05" y="324.70" width="25.01" height="25.89" fill="#4755f6"/><rect x="941.00" y="324.70" width="25.01" height="25.89" fill="#4851f4"/><rect x="965.96" y="324.70" width="25.01" height="25.89" fill="#412cb9"/><rect x="990.91" y="324.70" width="25.01" height="25.89" fill="#484ef1"/><rect x="1015.86" y="324.70" width="25.01" height="25.89" fill="#4742e6"/><rect x="92.30" y="350.53" width="25.31" height="25.89" fill="#4758f8"/><rect x="117.55" y="350.53" width="25.01" height="25.89" fill="#3f29b1"/><rect x="142.51" y="350.53" width="25.01" height="25.89" fill="#2d8cf3"/><rect x="167.46" y="350.53" width="25.01" height="25.89" fill="#463de0"/><rect x="192.41" y="350.53" width="25.01" height="25.89" fill="#475af9"/><rect x="217.37" y="350.53" width="25.01" height="25.89" fill="#01b8ca"/><rect x="242.32" y="350.53" width="25.01" height="25.89" fill="#12beb9"/><rect x="267.27" y="350.53" width="25.01" height="25.89" fill="#1aabdd"/><rect x="292.22" y="350.53" width="25.01" height="25.89" fill="#1aabdd"/><rect x="317.18" y="350.53" width="25.01" height="25.89" fill="#19addc"/><rect x="342.13" y="350.53" width="25.01" height="25.89" fill="#4757f7"/><rect x="367.08" y="350.53" width="25.01" height="25.89" fill="#347afd"/><rect x="392.04" y="350.53" width="25.01" height="25.89" fill="#febf3b"/><rect x="416.99" y="350.53" width="25.01" height="25.89" fill="#f9fb15"/><rect x="441.94" y="350.53" width="25.01" height="25.89" fill="#23a0e5"/><rect x="466.89" y="350.53" width="25.01" height="25.89" fill="#249fe6"/><rect x="491.85" y="350.53" width="25.01" height="25.89" fill="#1fa6e2"/><rect x="516.80" y="350.53" width="25.01" height="25.89" fill="#484ef1"/><rect x="541.75" y="350.53" width="25.01" height="25.89" fill="#4433cd"/><rect x="566.71" y="350.53" width="25.01" height="25.89" fill="#4332c9"/><rect x="591.66" y="350.53" width="25.01" height="25.89" fill="#4230c4"/><rect x="616.61" y="350.53" width="25.01" height="25.89" fill="#463bdd"/><rect x="641.57" y="350.53" width="25.01" height="25.89" fill="#4758f8"/><rect x="666.52" y="350.53" width="25.01" height="25.89" fill="#475cfa"/><rect x="691.47" y="350.53" width="25.01" height="25.89" fill="#4851f4"/><rect x="716.42" y="350.53" width="25.01" height="25.89" fill="#475cfa"/><rect x="741.38" y="350.53" width="25.01" height="25.89" fill="#4758f8"/><rect x="766.33" y="350.53" width="25.01" height="25.89" fill="#4747eb"/><rect x="791.28" y="350.53" width="25.01" height="25.89" fill="#4747eb"/><rect x="816.24" y="350.53" width="25.01" height="25.89" fill="#4851f4"/><rect x="841.19" y="350.53" width="25.01" height="25.89" fill="#4740e3"/><rect x="866.14" y="350.53" width="25.01" height="25.89" fill="#4433cd"/><rect x="891.10" y="350.53" width="25.01" height="25.89" fill="#402ab5"/><rect x="916.05" y="350.53" width="25.01" height="25.89" fill="#4848ec"/><rect x="941.00" y="350.53" width="25.01" height="25.89" fill="#4758f8"/><rect x="965.96" y="350.53" width="25.01" height="25.89" fill="#412cb9"/><rect x="990.91" y="350.53" width="25.01" height="25.89" fill="#484aee"/><rect x="1015.86" y="350.53" width="25.01" height="25.89" fill="#4639d9"/><rect x="92.30" y="376.36" width="25.31" height="25.89" fill="#4755f6"/><rect x="117.55" y="376.36" width="25.01" height="25.89" fill="#4744e8"/><rect x="142.51" y="376.36" width="25.01" height="25.89" fill="#317efb"/><rect x="167.46" y="376.36" width="25.01" height="25.89" fill="#4433cd"/><rect x="192.41" y="376.36" width="25.01" height="25.89" fill="#327cfc"/><rect x="217.37" y="376.36" width="25.01" height="25.89" fill="#2895ec"/><rect x="242.32" y="376.36" width="25.01" height="25.89" fill="#23a0e5"/><rect x="267.27" y="376.36" width="25.01" height="25.89" fill="#2994ed"/><rect x="292.22" y="376.36" width="25.01" height="25.89" fill="#2a92ee"/><rect x="317.18" y="376.36" width="25.01" height="25.89" fill="#2b91ef"/><rect x="342.13" y="376.36" width="25.01" height="25.89" fill="#4369fe"/><rect x="367.08" y="376.36" width="25.01" height="25.89" fill="#4465fd"/><rect x="392.04" y="376.36" width="25.01" height="25.89" fill="#2994ed"/><rect x="416.99" y="376.36" width="25.01" height="25.89" fill="#23a0e5"/><rect x="441.94" y="376.36" width="25.01" height="25.89" fill="#f9fb15"/><rect x="466.89" y="376.36" width="25.01" height="25.89" fill="#60cd72"/><rect x="491.85" y="376.36" width="25.01" height="25.89" fill="#2895ec"/><rect x="516.80" y="376.36" width="25.01" height="25.89" fill="#484aee"/><rect x="541.75" y="376.36" width="25.01" height="25.89" fill="#4639d9"/><rect x="566.71" y="376.36" width="25.01" height="25.89" fill="#4639d9"/><rect x="591.66" y="376.36" width="25.01" height="25.89" fill="#4332c9"/><rect x="616.61" y="376.36" width="25.01" height="25.89" fill="#4537d6"/><rect x="641.57" y="376.36" width="25.01" height="25.89" fill="#4755f6"/><rect x="666.52" y="376.36" width="25.01" height="25.89" fill="#4758f8"/><rect x="691.47" y="376.36" width="25.01" height="25.89" fill="#484aee"/><rect x="716.42" y="376.36" width="25.01" height="25.89" fill="#484ef1"/><rect x="741.38" y="376.36" width="25.01" height="25.89" fill="#4853f5"/><rect x="766.33" y="376.36" width="25.01" height="25.89" fill="#4332c9"/><rect x="791.28" y="376.36" width="25.01" height="25.89" fill="#347afd"/><rect x="816.24" y="376.36" width="25.01" height="25.89" fill="#484aee"/><rect x="841.19" y="376.36" width="25.01" height="25.89" fill="#463bdd"/><rect x="866.14" y="376.36" width="25.01" height="25.89" fill="#1caadf"/><rect x="891.10" y="376.36" width="25.01" height="25.89" fill="#463de0"/><rect x="916.05" y="376.36" width="25.01" height="25.89" fill="#484aee"/><rect x="941.00" y="376.36" width="25.01" height="25.89" fill="#4747eb"/><rect x="965.96" y="376.36" width="25.01" height="25.89" fill="#4332c9"/><rect x="990.91" y="376.36" width="25.01" height="25.89" fill="#4332c9"/><rect x="1015.86" y="376.36" width="25.01" height="25.89" fill="#4851f4"/><rect x="92.30" y="402.19" width="25.31" height="25.89" fill="#475af9"/><rect x="117.55" y="402.19" width="25.01" height="25.89" fill="#484aee"/><rect x="142.51" y="402.19" width="25.01" height="25.89" fill="#4563fd"/><rect x="167.46" y="402.19" width="25.01" height="25.89" fill="#412dbc"/><rect x="192.41" y="402.19" width="25.01" height="25.89" fill="#347afd"/><rect x="217.37" y="402.19" width="25.01" height="25.89" fill="#2994ed"/><rect x="242.32" y="402.19" width="25.01" height="25.89" fill="#269ae8"/><rect x="267.27" y="402.19" width="25.01" height="25.89" fill="#2f81fa"/><rect x="292.22" y="402.19" width="25.01" height="25.89" fill="#3080fb"/><rect x="317.18" y="402.19" width="25.01" height="25.89" fill="#3080fb"/><rect x="342.13" y="402.19" width="25.01" height="25.89" fill="#3678fd"/><rect x="367.08" y="402.19" width="25.01" height="25.89" fill="#4367fd"/><rect x="392.04" y="402.19" width="25.01" height="25.89" fill="#2895ec"/><rect x="416.99" y="402.19" width="25.01" height="25.89" fill="#249fe6"/><rect x="441.94" y="402.19" width="25.01" height="25.89" fill="#60cd72"/><rect x="466.89" y="402.19" width="25.01" height="25.89" fill="#f9fb15"/><rect x="491.85" y="402.19" width="25.01" height="25.89" fill="#22a1e4"/><rect x="516.80" y="402.19" width="25.01" height="25.89" fill="#4848ec"/><rect x="541.75" y="402.19" width="25.01" height="25.89" fill="#463de0"/><rect x="566.71" y="402.19" width="25.01" height="25.89" fill="#463de0"/><rect x="591.66" y="402.19" width="25.01" height="25.89" fill="#463de0"/><rect x="616.61" y="402.19" width="25.01" height="25.89" fill="#4435d2"/><rect x="641.57" y="402.19" width="25.01" height="25.89" fill="#484ef1"/><rect x="666.52" y="402.19" width="25.01" height="25.89" fill="#4755f6"/><rect x="691.47" y="402.19" width="25.01" height="25.89" fill="#4742e6"/><rect x="716.42" y="402.19" width="25.01" height="25.89" fill="#484aee"/><rect x="741.38" y="402.19" width="25.01" height="25.89" fill="#4853f5"/><rect x="766.33" y="402.19" width="25.01" height="25.89" fill="#4332c9"/><rect x="791.28" y="402.19" width="25.01" height="25.89" fill="#2895ec"/><rect x="816.24" y="402.19" width="25.01" height="25.89" fill="#4747eb"/><rect x="841.19" y="402.19" width="25.01" height="25.89" fill="#4742e6"/><rect x="866.14" y="402.19" width="25.01" height="25.89" fill="#2a92ee"/><rect x="891.10" y="402.19" width="25.01" height="25.89" fill="#4537d6"/><rect x="916.05" y="402.19" width="25.01" height="25.89" fill="#484aee"/><rect x="941.00" y="402.19" width="25.01" height="25.89" fill="#463de0"/><rect x="965.96" y="402.19" width="25.01" height="25.89" fill="#4433cd"/><rect x="990.91" y="402.19" width="25.01" height="25.89" fill="#4742e6"/><rect x="1015.86" y="402.19" width="25.01" height="25.89" fill="#4747eb"/><rect x="92.30" y="428.03" width="25.31" height="25.89" fill="#484ef1"/><rect x="117.55" y="428.03" width="25.01" height="25.89" fill="#463bdd"/><rect x="142.51" y="428.03" width="25.01" height="25.89" fill="#4367fd"/><rect x="167.46" y="428.03" width="25.01" height="25.89" fill="#3f28ae"/><rect x="192.41" y="428.03" width="25.01" height="25.89" fill="#4853f5"/><rect x="217.37" y="428.03" width="25.01" height="25.89" fill="#3080fb"/><rect x="242.32" y="428.03" width="25.01" height="25.89" fill="#2c8ff1"/><rect x="267.27" y="428.03" width="25.01" height="25.89" fill="#416bfe"/><rect x="292.22" y="428.03" width="25.01" height="25.89" fill="#4367fd"/><rect x="317.18" y="428.03" width="25.01" height="25.89" fill="#4369fe"/><rect x="342.13" y="428.03" width="25.01" height="25.89" fill="#3f6eff"/><rect x="367.08" y="428.03" width="25.01" height="25.89" fill="#4853f5"/><rect x="392.04" y="428.03" width="25.01" height="25.89" fill="#249de7"/><rect x="416.99" y="428.03" width="25.01" height="25.89" fill="#1fa6e2"/><rect x="441.94" y="428.03" width="25.01" height="25.89" fill="#2895ec"/><rect x="466.89" y="428.03" width="25.01" height="25.89" fill="#22a1e4"/><rect x="491.85" y="428.03" width="25.01" height="25.89" fill="#f9fb15"/><rect x="516.80" y="428.03" width="25.01" height="25.89" fill="#475af9"/><rect x="541.75" y="428.03" width="25.01" height="25.89" fill="#463bdd"/><rect x="566.71" y="428.03" width="25.01" height="25.89" fill="#4740e3"/><rect x="591.66" y="428.03" width="25.01" height="25.89" fill="#4435d2"/><rect x="616.61" y="428.03" width="25.01" height="25.89" fill="#412dbc"/><rect x="641.57" y="428.03" width="25.01" height="25.89" fill="#4742e6"/><rect x="666.52" y="428.03" width="25.01" height="25.89" fill="#4639d9"/><rect x="691.47" y="428.03" width="25.01" height="25.89" fill="#4742e6"/><rect x="716.42" y="428.03" width="25.01" height="25.89" fill="#4755f6"/><rect x="741.38" y="428.03" width="25.01" height="25.89" fill="#4755f6"/><rect x="766.33" y="428.03" width="25.01" height="25.89" fill="#4639d9"/><rect x="791.28" y="428.03" width="25.01" height="25.89" fill="#4639d9"/><rect x="816.24" y="428.03" width="25.01" height="25.89" fill="#463de0"/><rect x="841.19" y="428.03" width="25.01" height="25.89" fill="#463de0"/><rect x="866.14" y="428.03" width="25.01" height="25.89" fill="#4742e6"/><rect x="891.10" y="428.03" width="25.01" height="25.89" fill="#463de0"/><rect x="916.05" y="428.03" width="25.01" height="25.89" fill="#4435d2"/><rect x="941.00" y="428.03" width="25.01" height="25.89" fill="#422ec0"/><rect x="965.96" y="428.03" width="25.01" height="25.89" fill="#412cb9"/><rect x="990.91" y="428.03" width="25.01" height="25.89" fill="#463de0"/><rect x="1015.86" y="428.03" width="25.01" height="25.89" fill="#463de0"/><rect x="92.30" y="453.86" width="25.31" height="25.89" fill="#22a1e4"/><rect x="117.55" y="453.86" width="25.01" height="25.89" fill="#2b91ef"/><rect x="142.51" y="453.86" width="25.01" height="25.89" fill="#484aee"/><rect x="167.46" y="453.86" width="25.01" height="25.89" fill="#3e27ab"/><rect x="192.41" y="453.86" width="25.01" height="25.89" fill="#4639d9"/><rect x="217.37" y="453.86" width="25.01" height="25.89" fill="#4755f6"/><rect x="242.32" y="453.86" width="25.01" height="25.89" fill="#484cef"/><rect x="267.27" y="453.86" width="25.01" height="25.89" fill="#465ffb"/><rect x="292.22" y="453.86" width="25.01" height="25.89" fill="#465ffb"/><rect x="317.18" y="453.86" width="25.01" height="25.89" fill="#475cfa"/><rect x="342.13" y="453.86" width="25.01" height="25.89" fill="#4563fd"/><rect x="367.08" y="453.86" width="25.01" height="25.89" fill="#4848ec"/><rect x="392.04" y="453.86" width="25.01" height="25.89" fill="#4755f6"/><rect x="416.99" y="453.86" width="25.01" height="25.89" fill="#484ef1"/><rect x="441.94" y="453.86" width="25.01" height="25.89" fill="#484aee"/><rect x="466.89" y="453.86" width="25.01" height="25.89" fill="#4848ec"/><rect x="491.85" y="453.86" width="25.01" height="25.89" fill="#475af9"/><rect x="516.80" y="453.86" width="25.01" height="25.89" fill="#f9fb15"/><rect x="541.75" y="453.86" width="25.01" height="25.89" fill="#412dbc"/><rect x="566.71" y="453.86" width="25.01" height="25.89" fill="#3f29b1"/><rect x="591.66" y="453.86" width="25.01" height="25.89" fill="#4537d6"/><rect x="616.61" y="453.86" width="25.01" height="25.89" fill="#412cb9"/><rect x="641.57" y="453.86" width="25.01" height="25.89" fill="#4433cd"/><rect x="666.52" y="453.86" width="25.01" height="25.89" fill="#4639d9"/><rect x="691.47" y="453.86" width="25.01" height="25.89" fill="#4755f6"/><rect x="716.42" y="453.86" width="25.01" height="25.89" fill="#2895ec"/><rect x="741.38" y="453.86" width="25.01" height="25.89" fill="#4367fd"/><rect x="766.33" y="453.86" width="25.01" height="25.89" fill="#4433cd"/><rect x="791.28" y="453.86" width="25.01" height="25.89" fill="#422ec0"/><rect x="816.24" y="453.86" width="25.01" height="25.89" fill="#4435d2"/><rect x="841.19" y="453.86" width="25.01" height="25.89" fill="#422ec0"/><rect x="866.14" y="453.86" width="25.01" height="25.89" fill="#4537d6"/><rect x="891.10" y="453.86" width="25.01" height="25.89" fill="#463bdd"/><rect x="916.05" y="453.86" width="25.01" height="25.89" fill="#4639d9"/><rect x="941.00" y="453.86" width="25.01" height="25.89" fill="#4742e6"/><rect x="965.96" y="453.86" width="25.01" height="25.89" fill="#4433cd"/><rect x="990.91" y="453.86" width="25.01" height="25.89" fill="#4740e3"/><rect x="1015.86" y="453.86" width="25.01" height="25.89" fill="#4740e3"/><rect x="92.30" y="479.69" width="25.31" height="25.89" fill="#412cb9"/><rect x="117.55" y="479.69" width="25.01" height="25.89" fill="#402ab5"/><rect x="142.51" y="479.69" width="25.01" height="25.89" fill="#465ffb"/><rect x="167.46" y="479.69" width="25.01" height="25.89" fill="#3f29b1"/><rect x="192.41" y="479.69" width="25.01" height="25.89" fill="#412dbc"/><rect x="217.37" y="479.69" width="25.01" height="25.89" fill="#463de0"/><rect x="242.32" y="479.69" width="25.01" height="25.89" fill="#465ffb"/><rect x="267.27" y="479.69" width="25.01" height="25.89" fill="#412cb9"/><rect x="292.22" y="479.69" width="25.01" height="25.89" fill="#422ec0"/><rect x="317.18" y="479.69" width="25.01" height="25.89" fill="#412cb9"/><rect x="342.13" y="479.69" width="25.01" height="25.89" fill="#412cb9"/><rect x="367.08" y="479.69" width="25.01" height="25.89" fill="#412cb9"/><rect x="392.04" y="479.69" width="25.01" height="25.89" fill="#4537d6"/><rect x="416.99" y="479.69" width="25.01" height="25.89" fill="#4433cd"/><rect x="441.94" y="479.69" width="25.01" height="25.89" fill="#4639d9"/><rect x="466.89" y="479.69" width="25.01" height="25.89" fill="#463de0"/><rect x="491.85" y="479.69" width="25.01" height="25.89" fill="#463bdd"/><rect x="516.80" y="479.69" width="25.01" height="25.89" fill="#412dbc"/><rect x="541.75" y="479.69" width="25.01" height="25.89" fill="#f9fb15"/><rect x="566.71" y="479.69" width="25.01" height="25.89" fill="#fdcc32"/><rect x="591.66" y="479.69" width="25.01" height="25.89" fill="#33c69d"/><rect x="616.61" y="479.69" width="25.01" height="25.89" fill="#2d88f6"/><rect x="641.57" y="479.69" width="25.01" height="25.89" fill="#01b9c6"/><rect x="666.52" y="479.69" width="25.01" height="25.89" fill="#2a92ee"/><rect x="691.47" y="479.69" width="25.01" height="25.89" fill="#4639d9"/><rect x="716.42" y="479.69" width="25.01" height="25.89" fill="#422ec0"/><rect x="741.38" y="479.69" width="25.01" height="25.89" fill="#4435d2"/><rect x="766.33" y="479.69" width="25.01" height="25.89" fill="#484aee"/><rect x="791.28" y="479.69" width="25.01" height="25.89" fill="#4755f6"/><rect x="816.24" y="479.69" width="25.01" height="25.89" fill="#475cfa"/><rect x="841.19" y="479.69" width="25.01" height="25.89" fill="#416bfe"/><rect x="866.14" y="479.69" width="25.01" height="25.89" fill="#465efb"/><rect x="891.10" y="479.69" width="25.01" height="25.89" fill="#2e87f7"/><rect x="916.05" y="479.69" width="25.01" height="25.89" fill="#484ef1"/><rect x="941.00" y="479.69" width="25.01" height="25.89" fill="#4755f6"/><rect x="965.96" y="479.69" width="25.01" height="25.89" fill="#4537d6"/><rect x="990.91" y="479.69" width="25.01" height="25.89" fill="#4744e8"/><rect x="1015.86" y="479.69" width="25.01" height="25.89" fill="#4851f4"/><rect x="92.30" y="505.53" width="25.31" height="25.89" fill="#412cb9"/><rect x="117.55" y="505.53" width="25.01" height="25.89" fill="#402ab5"/><rect x="142.51" y="505.53" width="25.01" height="25.89" fill="#465ffb"/><rect x="167.46" y="505.53" width="25.01" height="25.89" fill="#3f29b1"/><rect x="192.41" y="505.53" width="25.01" height="25.89" fill="#412dbc"/><rect x="217.37" y="505.53" width="25.01" height="25.89" fill="#4740e3"/><rect x="242.32" y="505.53" width="25.01" height="25.89" fill="#465ffb"/><rect x="267.27" y="505.53" width="25.01" height="25.89" fill="#412dbc"/><rect x="292.22" y="505.53" width="25.01" height="25.89" fill="#4537d6"/><rect x="317.18" y="505.53" width="25.01" height="25.89" fill="#422ec0"/><rect x="342.13" y="505.53" width="25.01" height="25.89" fill="#3f29b1"/><rect x="367.08" y="505.53" width="25.01" height="25.89" fill="#412cb9"/><rect x="392.04" y="505.53" width="25.01" height="25.89" fill="#4537d6"/><rect x="416.99" y="505.53" width="25.01" height="25.89" fill="#4332c9"/><rect x="441.94" y="505.53" width="25.01" height="25.89" fill="#4639d9"/><rect x="466.89" y="505.53" width="25.01" height="25.89" fill="#463de0"/><rect x="491.85" y="505.53" width="25.01" height="25.89" fill="#4740e3"/><rect x="516.80" y="505.53" width="25.01" height="25.89" fill="#3f29b1"/><rect x="541.75" y="505.53" width="25.01" height="25.89" fill="#fdcc32"/><rect x="566.71" y="505.53" width="25.01" height="25.89" fill="#f9fb15"/><rect x="591.66" y="505.53" width="25.01" height="25.89" fill="#5ccc76"/><rect x="616.61" y="505.53" width="25.01" height="25.89" fill="#2797eb"/><rect x="641.57" y="505.53" width="25.01" height="25.89" fill="#01b8c8"/><rect x="666.52" y="505.53" width="25.01" height="25.89" fill="#2699ea"/><rect x="691.47" y="505.53" width="25.01" height="25.89" fill="#422ec0"/><rect x="716.42" y="505.53" width="25.01" height="25.89" fill="#3f29b1"/><rect x="741.38" y="505.53" width="25.01" height="25.89" fill="#4332c9"/><rect x="766.33" y="505.53" width="25.01" height="25.89" fill="#484aee"/><rect x="791.28" y="505.53" width="25.01" height="25.89" fill="#4758f8"/><rect x="816.24" y="505.53" width="25.01" height="25.89" fill="#475cfa"/><rect x="841.19" y="505.53" width="25.01" height="25.89" fill="#4465fd"/><rect x="866.14" y="505.53" width="25.01" height="25.89" fill="#465ffb"/><rect x="891.10" y="505.53" width="25.01" height="25.89" fill="#2d8df2"/><rect x="916.05" y="505.53" width="25.01" height="25.89" fill="#4747eb"/><rect x="941.00" y="505.53" width="25.01" height="25.89" fill="#4850f2"/><rect x="965.96" y="505.53" width="25.01" height="25.89" fill="#412dbc"/><rect x="990.91" y="505.53" width="25.01" height="25.89" fill="#484ef1"/><rect x="1015.86" y="505.53" width="25.01" height="25.89" fill="#4850f2"/><rect x="92.30" y="531.36" width="25.31" height="25.89" fill="#422ec0"/><rect x="117.55" y="531.36" width="25.01" height="25.89" fill="#4435d2"/><rect x="142.51" y="531.36" width="25.01" height="25.89" fill="#484aee"/><rect x="167.46" y="531.36" width="25.01" height="25.89" fill="#412cb9"/><rect x="192.41" y="531.36" width="25.01" height="25.89" fill="#422ec0"/><rect x="217.37" y="531.36" width="25.01" height="25.89" fill="#4639d9"/><rect x="242.32" y="531.36" width="25.01" height="25.89" fill="#484aee"/><rect x="267.27" y="531.36" width="25.01" height="25.89" fill="#422ec0"/><rect x="292.22" y="531.36" width="25.01" height="25.89" fill="#4639d9"/><rect x="317.18" y="531.36" width="25.01" height="25.89" fill="#412cb9"/><rect x="342.13" y="531.36" width="25.01" height="25.89" fill="#412cb9"/><rect x="367.08" y="531.36" width="25.01" height="25.89" fill="#4230c4"/><rect x="392.04" y="531.36" width="25.01" height="25.89" fill="#4537d6"/><rect x="416.99" y="531.36" width="25.01" height="25.89" fill="#4230c4"/><rect x="441.94" y="531.36" width="25.01" height="25.89" fill="#4332c9"/><rect x="466.89" y="531.36" width="25.01" height="25.89" fill="#463de0"/><rect x="491.85" y="531.36" width="25.01" height="25.89" fill="#4435d2"/><rect x="516.80" y="531.36" width="25.01" height="25.89" fill="#4537d6"/><rect x="541.75" y="531.36" width="25.01" height="25.89" fill="#33c69d"/><rect x="566.71" y="531.36" width="25.01" height="25.89" fill="#5ccc76"/><rect x="591.66" y="531.36" width="25.01" height="25.89" fill="#f9fb15"/><rect x="616.61" y="531.36" width="25.01" height="25.89" fill="#20a4e3"/><rect x="641.57" y="531.36" width="25.01" height="25.89" fill="#259ce7"/><rect x="666.52" y="531.36" width="25.01" height="25.89" fill="#3080fb"/><rect x="691.47" y="531.36" width="25.01" height="25.89" fill="#422ec0"/><rect x="716.42" y="531.36" width="25.01" height="25.89" fill="#412cb9"/><rect x="741.38" y="531.36" width="25.01" height="25.89" fill="#3f29b1"/><rect x="766.33" y="531.36" width="25.01" height="25.89" fill="#4848ec"/><rect x="791.28" y="531.36" width="25.01" height="25.89" fill="#4850f2"/><rect x="816.24" y="531.36" width="25.01" height="25.89" fill="#4851f4"/><rect x="841.19" y="531.36" width="25.01" height="25.89" fill="#465efb"/><rect x="866.14" y="531.36" width="25.01" height="25.89" fill="#4755f6"/><rect x="891.10" y="531.36" width="25.01" height="25.89" fill="#2895ec"/><rect x="916.05" y="531.36" width="25.01" height="25.89" fill="#4744e8"/><rect x="941.00" y="531.36" width="25.01" height="25.89" fill="#484ef1"/><rect x="965.96" y="531.36" width="25.01" height="25.89" fill="#422ec0"/><rect x="990.91" y="531.36" width="25.01" height="25.89" fill="#463bdd"/><rect x="1015.86" y="531.36" width="25.01" height="25.89" fill="#484aee"/><rect x="92.30" y="557.19" width="25.31" height="25.89" fill="#4435d2"/><rect x="117.55" y="557.19" width="25.01" height="25.89" fill="#463de0"/><rect x="142.51" y="557.19" width="25.01" height="25.89" fill="#475cfa"/><rect x="167.46" y="557.19" width="25.01" height="25.89" fill="#422ec0"/><rect x="192.41" y="557.19" width="25.01" height="25.89" fill="#4332c9"/><rect x="217.37" y="557.19" width="25.01" height="25.89" fill="#463de0"/><rect x="242.32" y="557.19" width="25.01" height="25.89" fill="#484ef1"/><rect x="267.27" y="557.19" width="25.01" height="25.89" fill="#412cb9"/><rect x="292.22" y="557.19" width="25.01" height="25.89" fill="#412cb9"/><rect x="317.18" y="557.19" width="25.01" height="25.89" fill="#4332c9"/><rect x="342.13" y="557.19" width="25.01" height="25.89" fill="#412dbc"/><rect x="367.08" y="557.19" width="25.01" height="25.89" fill="#422ec0"/><rect x="392.04" y="557.19" width="25.01" height="25.89" fill="#4848ec"/><rect x="416.99" y="557.19" width="25.01" height="25.89" fill="#463bdd"/><rect x="441.94" y="557.19" width="25.01" height="25.89" fill="#4537d6"/><rect x="466.89" y="557.19" width="25.01" height="25.89" fill="#4435d2"/><rect x="491.85" y="557.19" width="25.01" height="25.89" fill="#412dbc"/><rect x="516.80" y="557.19" width="25.01" height="25.89" fill="#412cb9"/><rect x="541.75" y="557.19" width="25.01" height="25.89" fill="#2d88f6"/><rect x="566.71" y="557.19" width="25.01" height="25.89" fill="#2797eb"/><rect x="591.66" y="557.19" width="25.01" height="25.89" fill="#20a4e3"/><rect x="616.61" y="557.19" width="25.01" height="25.89" fill="#f9fb15"/><rect x="641.57" y="557.19" width="25.01" height="25.89" fill="#1fa6e2"/><rect x="666.52" y="557.19" width="25.01" height="25.89" fill="#2e85f8"/><rect x="691.47" y="557.19" width="25.01" height="25.89" fill="#4742e6"/><rect x="716.42" y="557.19" width="25.01" height="25.89" fill="#4332c9"/><rect x="741.38" y="557.19" width="25.01" height="25.89" fill="#4744e8"/><rect x="766.33" y="557.19" width="25.01" height="25.89" fill="#484aee"/><rect x="791.28" y="557.19" width="25.01" height="25.89" fill="#4758f8"/><rect x="816.24" y="557.19" width="25.01" height="25.89" fill="#4757f7"/><rect x="841.19" y="557.19" width="25.01" height="25.89" fill="#3b72ff"/><rect x="866.14" y="557.19" width="25.01" height="25.89" fill="#3974fe"/><rect x="891.10" y="557.19" width="25.01" height="25.89" fill="#2d88f6"/><rect x="916.05" y="557.19" width="25.01" height="25.89" fill="#484ef1"/><rect x="941.00" y="557.19" width="25.01" height="25.89" fill="#4848ec"/><rect x="965.96" y="557.19" width="25.01" height="25.89" fill="#4332c9"/><rect x="990.91" y="557.19" width="25.01" height="25.89" fill="#475af9"/><rect x="1015.86" y="557.19" width="25.01" height="25.89" fill="#4744e8"/><rect x="92.30" y="583.03" width="25.31" height="25.89" fill="#4639d9"/><rect x="117.55" y="583.03" width="25.01" height="25.89" fill="#412cb9"/><rect x="142.51" y="583.03" width="25.01" height="25.89" fill="#2d8af4"/><rect x="167.46" y="583.03" width="25.01" height="25.89" fill="#3f29b1"/><rect x="192.41" y="583.03" width="25.01" height="25.89" fill="#463de0"/><rect x="217.37" y="583.03" width="25.01" height="25.89" fill="#465ffb"/><rect x="242.32" y="583.03" width="25.01" height="25.89" fill="#2895ec"/><rect x="267.27" y="583.03" width="25.01" height="25.89" fill="#4639d9"/><rect x="292.22" y="583.03" width="25.01" height="25.89" fill="#4435d2"/><rect x="317.18" y="583.03" width="25.01" height="25.89" fill="#4742e6"/><rect x="342.13" y="583.03" width="25.01" height="25.89" fill="#4332c9"/><rect x="367.08" y="583.03" width="25.01" height="25.89" fill="#4435d2"/><rect x="392.04" y="583.03" width="25.01" height="25.89" fill="#4755f6"/><rect x="416.99" y="583.03" width="25.01" height="25.89" fill="#4758f8"/><rect x="441.94" y="583.03" width="25.01" height="25.89" fill="#4755f6"/><rect x="466.89" y="583.03" width="25.01" height="25.89" fill="#484ef1"/><rect x="491.85" y="583.03" width="25.01" height="25.89" fill="#4742e6"/><rect x="516.80" y="583.03" width="25.01" height="25.89" fill="#4433cd"/><rect x="541.75" y="583.03" width="25.01" height="25.89" fill="#01b9c6"/><rect x="566.71" y="583.03" width="25.01" height="25.89" fill="#01b8c8"/><rect x="591.66" y="583.03" width="25.01" height="25.89" fill="#259ce7"/><rect x="616.61" y="583.03" width="25.01" height="25.89" fill="#1fa6e2"/><rect x="641.57" y="583.03" width="25.01" height="25.89" fill="#f9fb15"/><rect x="666.52" y="583.03" width="25.01" height="25.89" fill="#2fc5a2"/><rect x="691.47" y="583.03" width="25.01" height="25.89" fill="#4747eb"/><rect x="716.42" y="583.03" width="25.01" height="25.89" fill="#484ef1"/><rect x="741.38" y="583.03" width="25.01" height="25.89" fill="#475af9"/><rect x="766.33" y="583.03" width="25.01" height="25.89" fill="#4851f4"/><rect x="791.28" y="583.03" width="25.01" height="25.89" fill="#4561fc"/><rect x="816.24" y="583.03" width="25.01" height="25.89" fill="#317efb"/><rect x="841.19" y="583.03" width="25.01" height="25.89" fill="#2994ed"/><rect x="866.14" y="583.03" width="25.01" height="25.89" fill="#3678fd"/><rect x="891.10" y="583.03" width="25.01" height="25.89" fill="#2797eb"/><rect x="916.05" y="583.03" width="25.01" height="25.89" fill="#317efb"/><rect x="941.00" y="583.03" width="25.01" height="25.89" fill="#4367fd"/><rect x="965.96" y="583.03" width="25.01" height="25.89" fill="#4332c9"/><rect x="990.91" y="583.03" width="25.01" height="25.89" fill="#484ef1"/><rect x="1015.86" y="583.03" width="25.01" height="25.89" fill="#3f6eff"/><rect x="92.30" y="608.86" width="25.31" height="25.89" fill="#3f29b1"/><rect x="117.55" y="608.86" width="25.01" height="25.89" fill="#4435d2"/><rect x="142.51" y="608.86" width="25.01" height="25.89" fill="#04bbc2"/><rect x="167.46" y="608.86" width="25.01" height="25.89" fill="#4332c9"/><rect x="192.41" y="608.86" width="25.01" height="25.89" fill="#463de0"/><rect x="217.37" y="608.86" width="25.01" height="25.89" fill="#465ffb"/><rect x="242.32" y="608.86" width="25.01" height="25.89" fill="#2d8cf3"/><rect x="267.27" y="608.86" width="25.01" height="25.89" fill="#4639d9"/><rect x="292.22" y="608.86" width="25.01" height="25.89" fill="#4639d9"/><rect x="317.18" y="608.86" width="25.01" height="25.89" fill="#4742e6"/><rect x="342.13" y="608.86" width="25.01" height="25.89" fill="#412cb9"/><rect x="367.08" y="608.86" width="25.01" height="25.89" fill="#412cb9"/><rect x="392.04" y="608.86" width="25.01" height="25.89" fill="#4757f7"/><rect x="416.99" y="608.86" width="25.01" height="25.89" fill="#475cfa"/><rect x="441.94" y="608.86" width="25.01" height="25.89" fill="#4758f8"/><rect x="466.89" y="608.86" width="25.01" height="25.89" fill="#4755f6"/><rect x="491.85" y="608.86" width="25.01" height="25.89" fill="#4639d9"/><rect x="516.80" y="608.86" width="25.01" height="25.89" fill="#4639d9"/><rect x="541.75" y="608.86" width="25.01" height="25.89" fill="#2a92ee"/><rect x="566.71" y="608.86" width="25.01" height="25.89" fill="#2699ea"/><rect x="591.66" y="608.86" width="25.01" height="25.89" fill="#3080fb"/><rect x="616.61" y="608.86" width="25.01" height="25.89" fill="#2e85f8"/><rect x="641.57" y="608.86" width="25.01" height="25.89" fill="#2fc5a2"/><rect x="666.52" y="608.86" width="25.01" height="25.89" fill="#f9fb15"/><rect x="691.47" y="608.86" width="25.01" height="25.89" fill="#4744e8"/><rect x="716.42" y="608.86" width="25.01" height="25.89" fill="#4851f4"/><rect x="741.38" y="608.86" width="25.01" height="25.89" fill="#4853f5"/><rect x="766.33" y="608.86" width="25.01" height="25.89" fill="#4747eb"/><rect x="791.28" y="608.86" width="25.01" height="25.89" fill="#465efb"/><rect x="816.24" y="608.86" width="25.01" height="25.89" fill="#475af9"/><rect x="841.19" y="608.86" width="25.01" height="25.89" fill="#2e85f8"/><rect x="866.14" y="608.86" width="25.01" height="25.89" fill="#465efb"/><rect x="891.10" y="608.86" width="25.01" height="25.89" fill="#4367fd"/><rect x="916.05" y="608.86" width="25.01" height="25.89" fill="#4850f2"/><rect x="941.00" y="608.86" width="25.01" height="25.89" fill="#475af9"/><rect x="965.96" y="608.86" width="25.01" height="25.89" fill="#4537d6"/><rect x="990.91" y="608.86" width="25.01" height="25.89" fill="#4848ec"/><rect x="1015.86" y="608.86" width="25.01" height="25.89" fill="#4758f8"/><rect x="92.30" y="634.69" width="25.31" height="25.89" fill="#4851f4"/><rect x="117.55" y="634.69" width="25.01" height="25.89" fill="#4747eb"/><rect x="142.51" y="634.69" width="25.01" height="25.89" fill="#4742e6"/><rect x="167.46" y="634.69" width="25.01" height="25.89" fill="#422ec0"/><rect x="192.41" y="634.69" width="25.01" height="25.89" fill="#484aee"/><rect x="217.37" y="634.69" width="25.01" height="25.89" fill="#463de0"/><rect x="242.32" y="634.69" width="25.01" height="25.89" fill="#4639d9"/><rect x="267.27" y="634.69" width="25.01" height="25.89" fill="#4755f6"/><rect x="292.22" y="634.69" width="25.01" height="25.89" fill="#4758f8"/><rect x="317.18" y="634.69" width="25.01" height="25.89" fill="#4758f8"/><rect x="342.13" y="634.69" width="25.01" height="25.89" fill="#475cfa"/><rect x="367.08" y="634.69" width="25.01" height="25.89" fill="#4755f6"/><rect x="392.04" y="634.69" width="25.01" height="25.89" fill="#4853f5"/><rect x="416.99" y="634.69" width="25.01" height="25.89" fill="#4851f4"/><rect x="441.94" y="634.69" width="25.01" height="25.89" fill="#484aee"/><rect x="466.89" y="634.69" width="25.01" height="25.89" fill="#4742e6"/><rect x="491.85" y="634.69" width="25.01" height="25.89" fill="#4742e6"/><rect x="516.80" y="634.69" width="25.01" height="25.89" fill="#4755f6"/><rect x="541.75" y="634.69" width="25.01" height="25.89" fill="#4639d9"/><rect x="566.71" y="634.69" width="25.01" height="25.89" fill="#422ec0"/><rect x="591.66" y="634.69" width="25.01" height="25.89" fill="#422ec0"/><rect x="616.61" y="634.69" width="25.01" height="25.89" fill="#4742e6"/><rect x="641.57" y="634.69" width="25.01" height="25.89" fill="#4747eb"/><rect x="666.52" y="634.69" width="25.01" height="25.89" fill="#4744e8"/><rect x="691.47" y="634.69" width="25.01" height="25.89" fill="#f9fb15"/><rect x="716.42" y="634.69" width="25.01" height="25.89" fill="#21a3e3"/><rect x="741.38" y="634.69" width="25.01" height="25.89" fill="#249fe6"/><rect x="766.33" y="634.69" width="25.01" height="25.89" fill="#3876fe"/><rect x="791.28" y="634.69" width="25.01" height="25.89" fill="#4848ec"/><rect x="816.24" y="634.69" width="25.01" height="25.89" fill="#4757f7"/><rect x="841.19" y="634.69" width="25.01" height="25.89" fill="#484cef"/><rect x="866.14" y="634.69" width="25.01" height="25.89" fill="#4850f2"/><rect x="891.10" y="634.69" width="25.01" height="25.89" fill="#463de0"/><rect x="916.05" y="634.69" width="25.01" height="25.89" fill="#4850f2"/><rect x="941.00" y="634.69" width="25.01" height="25.89" fill="#4758f8"/><rect x="965.96" y="634.69" width="25.01" height="25.89" fill="#4740e3"/><rect x="990.91" y="634.69" width="25.01" height="25.89" fill="#4435d2"/><rect x="1015.86" y="634.69" width="25.01" height="25.89" fill="#422ec0"/><rect x="92.30" y="660.52" width="25.31" height="25.89" fill="#4758f8"/><rect x="117.55" y="660.52" width="25.01" height="25.89" fill="#484aee"/><rect x="142.51" y="660.52" width="25.01" height="25.89" fill="#484aee"/><rect x="167.46" y="660.52" width="25.01" height="25.89" fill="#3f29b1"/><rect x="192.41" y="660.52" width="25.01" height="25.89" fill="#484ef1"/><rect x="217.37" y="660.52" width="25.01" height="25.89" fill="#484aee"/><rect x="242.32" y="660.52" width="25.01" height="25.89" fill="#484ef1"/><rect x="267.27" y="660.52" width="25.01" height="25.89" fill="#465ffb"/><rect x="292.22" y="660.52" width="25.01" height="25.89" fill="#4561fc"/><rect x="317.18" y="660.52" width="25.01" height="25.89" fill="#475cfa"/><rect x="342.13" y="660.52" width="25.01" height="25.89" fill="#475cfa"/><rect x="367.08" y="660.52" width="25.01" height="25.89" fill="#4758f8"/><rect x="392.04" y="660.52" width="25.01" height="25.89" fill="#465ffb"/><rect x="416.99" y="660.52" width="25.01" height="25.89" fill="#475cfa"/><rect x="441.94" y="660.52" width="25.01" height="25.89" fill="#484ef1"/><rect x="466.89" y="660.52" width="25.01" height="25.89" fill="#484aee"/><rect x="491.85" y="660.52" width="25.01" height="25.89" fill="#4755f6"/><rect x="516.80" y="660.52" width="25.01" height="25.89" fill="#2895ec"/><rect x="541.75" y="660.52" width="25.01" height="25.89" fill="#422ec0"/><rect x="566.71" y="660.52" width="25.01" height="25.89" fill="#3f29b1"/><rect x="591.66" y="660.52" width="25.01" height="25.89" fill="#412cb9"/><rect x="616.61" y="660.52" width="25.01" height="25.89" fill="#4332c9"/><rect x="641.57" y="660.52" width="25.01" height="25.89" fill="#484ef1"/><rect x="666.52" y="660.52" width="25.01" height="25.89" fill="#4851f4"/><rect x="691.47" y="660.52" width="25.01" height="25.89" fill="#21a3e3"/><rect x="716.42" y="660.52" width="25.01" height="25.89" fill="#f9fb15"/><rect x="741.38" y="660.52" width="25.01" height="25.89" fill="#01b9c6"/><rect x="766.33" y="660.52" width="25.01" height="25.89" fill="#4851f4"/><rect x="791.28" y="660.52" width="25.01" height="25.89" fill="#4755f6"/><rect x="816.24" y="660.52" width="25.01" height="25.89" fill="#4465fd"/><rect x="841.19" y="660.52" width="25.01" height="25.89" fill="#4851f4"/><rect x="866.14" y="660.52" width="25.01" height="25.89" fill="#4367fd"/><rect x="891.10" y="660.52" width="25.01" height="25.89" fill="#412dbc"/><rect x="916.05" y="660.52" width="25.01" height="25.89" fill="#4367fd"/><rect x="941.00" y="660.52" width="25.01" height="25.89" fill="#2a92ee"/><rect x="965.96" y="660.52" width="25.01" height="25.89" fill="#484aee"/><rect x="990.91" y="660.52" width="25.01" height="25.89" fill="#4850f2"/><rect x="1015.86" y="660.52" width="25.01" height="25.89" fill="#3b72ff"/><rect x="92.30" y="686.36" width="25.31" height="25.89" fill="#4563fd"/><rect x="117.55" y="686.36" width="25.01" height="25.89" fill="#484ef1"/><rect x="142.51" y="686.36" width="25.01" height="25.89" fill="#4758f8"/><rect x="167.46" y="686.36" width="25.01" height="25.89" fill="#4332c9"/><rect x="192.41" y="686.36" width="25.01" height="25.89" fill="#4851f4"/><rect x="217.37" y="686.36" width="25.01" height="25.89" fill="#475cfa"/><rect x="242.32" y="686.36" width="25.01" height="25.89" fill="#4758f8"/><rect x="267.27" y="686.36" width="25.01" height="25.89" fill="#475cfa"/><rect x="292.22" y="686.36" width="25.01" height="25.89" fill="#465ffb"/><rect x="317.18" y="686.36" width="25.01" height="25.89" fill="#475cfa"/><rect x="342.13" y="686.36" width="25.01" height="25.89" fill="#465ffb"/><rect x="367.08" y="686.36" width="25.01" height="25.89" fill="#4561fc"/><rect x="392.04" y="686.36" width="25.01" height="25.89" fill="#465ffb"/><rect x="416.99" y="686.36" width="25.01" height="25.89" fill="#4758f8"/><rect x="441.94" y="686.36" width="25.01" height="25.89" fill="#4853f5"/><rect x="466.89" y="686.36" width="25.01" height="25.89" fill="#4853f5"/><rect x="491.85" y="686.36" width="25.01" height="25.89" fill="#4755f6"/><rect x="516.80" y="686.36" width="25.01" height="25.89" fill="#4367fd"/><rect x="541.75" y="686.36" width="25.01" height="25.89" fill="#4435d2"/><rect x="566.71" y="686.36" width="25.01" height="25.89" fill="#4332c9"/><rect x="591.66" y="686.36" width="25.01" height="25.89" fill="#3f29b1"/><rect x="616.61" y="686.36" width="25.01" height="25.89" fill="#4744e8"/><rect x="641.57" y="686.36" width="25.01" height="25.89" fill="#475af9"/><rect x="666.52" y="686.36" width="25.01" height="25.89" fill="#4853f5"/><rect x="691.47" y="686.36" width="25.01" height="25.89" fill="#249fe6"/><rect x="716.42" y="686.36" width="25.01" height="25.89" fill="#01b9c6"/><rect x="741.38" y="686.36" width="25.01" height="25.89" fill="#f9fb15"/><rect x="766.33" y="686.36" width="25.01" height="25.89" fill="#475af9"/><rect x="791.28" y="686.36" width="25.01" height="25.89" fill="#3974fe"/><rect x="816.24" y="686.36" width="25.01" height="25.89" fill="#3678fd"/><rect x="841.19" y="686.36" width="25.01" height="25.89" fill="#4563fd"/><rect x="866.14" y="686.36" width="25.01" height="25.89" fill="#3876fe"/><rect x="891.10" y="686.36" width="25.01" height="25.89" fill="#4747eb"/><rect x="916.05" y="686.36" width="25.01" height="25.89" fill="#3f6eff"/><rect x="941.00" y="686.36" width="25.01" height="25.89" fill="#317efb"/><rect x="965.96" y="686.36" width="25.01" height="25.89" fill="#4742e6"/><rect x="990.91" y="686.36" width="25.01" height="25.89" fill="#4853f5"/><rect x="1015.86" y="686.36" width="25.01" height="25.89" fill="#3b72ff"/><rect x="92.30" y="712.19" width="25.31" height="25.89" fill="#4747eb"/><rect x="117.55" y="712.19" width="25.01" height="25.89" fill="#4332c9"/><rect x="142.51" y="712.19" width="25.01" height="25.89" fill="#4435d2"/><rect x="167.46" y="712.19" width="25.01" height="25.89" fill="#4332c9"/><rect x="192.41" y="712.19" width="25.01" height="25.89" fill="#422ec0"/><rect x="217.37" y="712.19" width="25.01" height="25.89" fill="#4639d9"/><rect x="242.32" y="712.19" width="25.01" height="25.89" fill="#4742e6"/><rect x="267.27" y="712.19" width="25.01" height="25.89" fill="#4435d2"/><rect x="292.22" y="712.19" width="25.01" height="25.89" fill="#4639d9"/><rect x="317.18" y="712.19" width="25.01" height="25.89" fill="#463de0"/><rect x="342.13" y="712.19" width="25.01" height="25.89" fill="#4435d2"/><rect x="367.08" y="712.19" width="25.01" height="25.89" fill="#412cb9"/><rect x="392.04" y="712.19" width="25.01" height="25.89" fill="#484ef1"/><rect x="416.99" y="712.19" width="25.01" height="25.89" fill="#4747eb"/><rect x="441.94" y="712.19" width="25.01" height="25.89" fill="#4332c9"/><rect x="466.89" y="712.19" width="25.01" height="25.89" fill="#4332c9"/><rect x="491.85" y="712.19" width="25.01" height="25.89" fill="#4639d9"/><rect x="516.80" y="712.19" width="25.01" height="25.89" fill="#4433cd"/><rect x="541.75" y="712.19" width="25.01" height="25.89" fill="#484aee"/><rect x="566.71" y="712.19" width="25.01" height="25.89" fill="#484aee"/><rect x="591.66" y="712.19" width="25.01" height="25.89" fill="#4848ec"/><rect x="616.61" y="712.19" width="25.01" height="25.89" fill="#484aee"/><rect x="641.57" y="712.19" width="25.01" height="25.89" fill="#4851f4"/><rect x="666.52" y="712.19" width="25.01" height="25.89" fill="#4747eb"/><rect x="691.47" y="712.19" width="25.01" height="25.89" fill="#3876fe"/><rect x="716.42" y="712.19" width="25.01" height="25.89" fill="#4851f4"/><rect x="741.38" y="712.19" width="25.01" height="25.89" fill="#475af9"/><rect x="766.33" y="712.19" width="25.01" height="25.89" fill="#f9fb15"/><rect x="791.28" y="712.19" width="25.01" height="25.89" fill="#412cb9"/><rect x="816.24" y="712.19" width="25.01" height="25.89" fill="#2f81fa"/><rect x="841.19" y="712.19" width="25.01" height="25.89" fill="#4853f5"/><rect x="866.14" y="712.19" width="25.01" height="25.89" fill="#4435d2"/><rect x="891.10" y="712.19" width="25.01" height="25.89" fill="#3678fd"/><rect x="916.05" y="712.19" width="25.01" height="25.89" fill="#484cef"/><rect x="941.00" y="712.19" width="25.01" height="25.89" fill="#4848ec"/><rect x="965.96" y="712.19" width="25.01" height="25.89" fill="#412cb9"/><rect x="990.91" y="712.19" width="25.01" height="25.89" fill="#4742e6"/><rect x="1015.86" y="712.19" width="25.01" height="25.89" fill="#4740e3"/><rect x="92.30" y="738.02" width="25.31" height="25.89" fill="#422ec0"/><rect x="117.55" y="738.02" width="25.01" height="25.89" fill="#4332c9"/><rect x="142.51" y="738.02" width="25.01" height="25.89" fill="#4755f6"/><rect x="167.46" y="738.02" width="25.01" height="25.89" fill="#412cb9"/><rect x="192.41" y="738.02" width="25.01" height="25.89" fill="#484ef1"/><rect x="217.37" y="738.02" width="25.01" height="25.89" fill="#4742e6"/><rect x="242.32" y="738.02" width="25.01" height="25.89" fill="#484aee"/><rect x="267.27" y="738.02" width="25.01" height="25.89" fill="#4435d2"/><rect x="292.22" y="738.02" width="25.01" height="25.89" fill="#4639d9"/><rect x="317.18" y="738.02" width="25.01" height="25.89" fill="#463de0"/><rect x="342.13" y="738.02" width="25.01" height="25.89" fill="#4435d2"/><rect x="367.08" y="738.02" width="25.01" height="25.89" fill="#4639d9"/><rect x="392.04" y="738.02" width="25.01" height="25.89" fill="#4747eb"/><rect x="416.99" y="738.02" width="25.01" height="25.89" fill="#4747eb"/><rect x="441.94" y="738.02" width="25.01" height="25.89" fill="#347afd"/><rect x="466.89" y="738.02" width="25.01" height="25.89" fill="#2895ec"/><rect x="491.85" y="738.02" width="25.01" height="25.89" fill="#4639d9"/><rect x="516.80" y="738.02" width="25.01" height="25.89" fill="#422ec0"/><rect x="541.75" y="738.02" width="25.01" height="25.89" fill="#4755f6"/><rect x="566.71" y="738.02" width="25.01" height="25.89" fill="#4758f8"/><rect x="591.66" y="738.02" width="25.01" height="25.89" fill="#4850f2"/><rect x="616.61" y="738.02" width="25.01" height="25.89" fill="#4758f8"/><rect x="641.57" y="738.02" width="25.01" height="25.89" fill="#4561fc"/><rect x="666.52" y="738.02" width="25.01" height="25.89" fill="#465efb"/><rect x="691.47" y="738.02" width="25.01" height="25.89" fill="#4848ec"/><rect x="716.42" y="738.02" width="25.01" height="25.89" fill="#4755f6"/><rect x="741.38" y="738.02" width="25.01" height="25.89" fill="#3974fe"/><rect x="766.33" y="738.02" width="25.01" height="25.89" fill="#412cb9"/><rect x="791.28" y="738.02" width="25.01" height="25.89" fill="#f9fb15"/><rect x="816.24" y="738.02" width="25.01" height="25.89" fill="#17aeda"/><rect x="841.19" y="738.02" width="25.01" height="25.89" fill="#17aeda"/><rect x="866.14" y="738.02" width="25.01" height="25.89" fill="#2fc5a2"/><rect x="891.10" y="738.02" width="25.01" height="25.89" fill="#3f6eff"/><rect x="916.05" y="738.02" width="25.01" height="25.89" fill="#2d8cf3"/><rect x="941.00" y="738.02" width="25.01" height="25.89" fill="#3080fb"/><rect x="965.96" y="738.02" width="25.01" height="25.89" fill="#4747eb"/><rect x="990.91" y="738.02" width="25.01" height="25.89" fill="#484ef1"/><rect x="1015.86" y="738.02" width="25.01" height="25.89" fill="#475af9"/><rect x="92.30" y="763.86" width="25.31" height="25.89" fill="#4332c9"/><rect x="117.55" y="763.86" width="25.01" height="25.89" fill="#412cb9"/><rect x="142.51" y="763.86" width="25.01" height="25.89" fill="#4755f6"/><rect x="167.46" y="763.86" width="25.01" height="25.89" fill="#412cb9"/><rect x="192.41" y="763.86" width="25.01" height="25.89" fill="#463de0"/><rect x="217.37" y="763.86" width="25.01" height="25.89" fill="#475cfa"/><rect x="242.32" y="763.86" width="25.01" height="25.89" fill="#465ffb"/><rect x="267.27" y="763.86" width="25.01" height="25.89" fill="#4639d9"/><rect x="292.22" y="763.86" width="25.01" height="25.89" fill="#4639d9"/><rect x="317.18" y="763.86" width="25.01" height="25.89" fill="#484ef1"/><rect x="342.13" y="763.86" width="25.01" height="25.89" fill="#4639d9"/><rect x="367.08" y="763.86" width="25.01" height="25.89" fill="#484ef1"/><rect x="392.04" y="763.86" width="25.01" height="25.89" fill="#4851f4"/><rect x="416.99" y="763.86" width="25.01" height="25.89" fill="#4851f4"/><rect x="441.94" y="763.86" width="25.01" height="25.89" fill="#484aee"/><rect x="466.89" y="763.86" width="25.01" height="25.89" fill="#4747eb"/><rect x="491.85" y="763.86" width="25.01" height="25.89" fill="#463de0"/><rect x="516.80" y="763.86" width="25.01" height="25.89" fill="#4435d2"/><rect x="541.75" y="763.86" width="25.01" height="25.89" fill="#475cfa"/><rect x="566.71" y="763.86" width="25.01" height="25.89" fill="#475cfa"/><rect x="591.66" y="763.86" width="25.01" height="25.89" fill="#4851f4"/><rect x="616.61" y="763.86" width="25.01" height="25.89" fill="#4757f7"/><rect x="641.57" y="763.86" width="25.01" height="25.89" fill="#317efb"/><rect x="666.52" y="763.86" width="25.01" height="25.89" fill="#475af9"/><rect x="691.47" y="763.86" width="25.01" height="25.89" fill="#4757f7"/><rect x="716.42" y="763.86" width="25.01" height="25.89" fill="#4465fd"/><rect x="741.38" y="763.86" width="25.01" height="25.89" fill="#3678fd"/><rect x="766.33" y="763.86" width="25.01" height="25.89" fill="#2f81fa"/><rect x="791.28" y="763.86" width="25.01" height="25.89" fill="#17aeda"/><rect x="816.24" y="763.86" width="25.01" height="25.89" fill="#f9fb15"/><rect x="841.19" y="763.86" width="25.01" height="25.89" fill="#24c2ae"/><rect x="866.14" y="763.86" width="25.01" height="25.89" fill="#2699ea"/><rect x="891.10" y="763.86" width="25.01" height="25.89" fill="#2e85f8"/><rect x="916.05" y="763.86" width="25.01" height="25.89" fill="#259ce7"/><rect x="941.00" y="763.86" width="25.01" height="25.89" fill="#22a1e4"/><rect x="965.96" y="763.86" width="25.01" height="25.89" fill="#4744e8"/><rect x="990.91" y="763.86" width="25.01" height="25.89" fill="#484aee"/><rect x="1015.86" y="763.86" width="25.01" height="25.89" fill="#465efb"/><rect x="92.30" y="789.69" width="25.31" height="25.89" fill="#3f29b1"/><rect x="117.55" y="789.69" width="25.01" height="25.89" fill="#3f29b1"/><rect x="142.51" y="789.69" width="25.01" height="25.89" fill="#4758f8"/><rect x="167.46" y="789.69" width="25.01" height="25.89" fill="#412cb9"/><rect x="192.41" y="789.69" width="25.01" height="25.89" fill="#422ec0"/><rect x="217.37" y="789.69" width="25.01" height="25.89" fill="#4747eb"/><rect x="242.32" y="789.69" width="25.01" height="25.89" fill="#4563fd"/><rect x="267.27" y="789.69" width="25.01" height="25.89" fill="#4639d9"/><rect x="292.22" y="789.69" width="25.01" height="25.89" fill="#4639d9"/><rect x="317.18" y="789.69" width="25.01" height="25.89" fill="#4742e6"/><rect x="342.13" y="789.69" width="25.01" height="25.89" fill="#422ec0"/><rect x="367.08" y="789.69" width="25.01" height="25.89" fill="#4332c9"/><rect x="392.04" y="789.69" width="25.01" height="25.89" fill="#4639d9"/><rect x="416.99" y="789.69" width="25.01" height="25.89" fill="#4740e3"/><rect x="441.94" y="789.69" width="25.01" height="25.89" fill="#463bdd"/><rect x="466.89" y="789.69" width="25.01" height="25.89" fill="#4742e6"/><rect x="491.85" y="789.69" width="25.01" height="25.89" fill="#463de0"/><rect x="516.80" y="789.69" width="25.01" height="25.89" fill="#422ec0"/><rect x="541.75" y="789.69" width="25.01" height="25.89" fill="#416bfe"/><rect x="566.71" y="789.69" width="25.01" height="25.89" fill="#4465fd"/><rect x="591.66" y="789.69" width="25.01" height="25.89" fill="#465efb"/><rect x="616.61" y="789.69" width="25.01" height="25.89" fill="#3b72ff"/><rect x="641.57" y="789.69" width="25.01" height="25.89" fill="#2994ed"/><rect x="666.52" y="789.69" width="25.01" height="25.89" fill="#2e85f8"/><rect x="691.47" y="789.69" width="25.01" height="25.89" fill="#484cef"/><rect x="716.42" y="789.69" width="25.01" height="25.89" fill="#4851f4"/><rect x="741.38" y="789.69" width="25.01" height="25.89" fill="#4563fd"/><rect x="766.33" y="789.69" width="25.01" height="25.89" fill="#4853f5"/><rect x="791.28" y="789.69" width="25.01" height="25.89" fill="#17aeda"/><rect x="816.24" y="789.69" width="25.01" height="25.89" fill="#24c2ae"/><rect x="841.19" y="789.69" width="25.01" height="25.89" fill="#f9fb15"/><rect x="866.14" y="789.69" width="25.01" height="25.89" fill="#01b9c6"/><rect x="891.10" y="789.69" width="25.01" height="25.89" fill="#2797eb"/><rect x="916.05" y="789.69" width="25.01" height="25.89" fill="#259ce7"/><rect x="941.00" y="789.69" width="25.01" height="25.89" fill="#269ae8"/><rect x="965.96" y="789.69" width="25.01" height="25.89" fill="#4744e8"/><rect x="990.91" y="789.69" width="25.01" height="25.89" fill="#484cef"/><rect x="1015.86" y="789.69" width="25.01" height="25.89" fill="#4851f4"/><rect x="92.30" y="815.52" width="25.31" height="25.89" fill="#412cb9"/><rect x="117.55" y="815.52" width="25.01" height="25.89" fill="#4332c9"/><rect x="142.51" y="815.52" width="25.01" height="25.89" fill="#4851f4"/><rect x="167.46" y="815.52" width="25.01" height="25.89" fill="#422ec0"/><rect x="192.41" y="815.52" width="25.01" height="25.89" fill="#475cfa"/><rect x="217.37" y="815.52" width="25.01" height="25.89" fill="#4742e6"/><rect x="242.32" y="815.52" width="25.01" height="25.89" fill="#4747eb"/><rect x="267.27" y="815.52" width="25.01" height="25.89" fill="#422ec0"/><rect x="292.22" y="815.52" width="25.01" height="25.89" fill="#4332c9"/><rect x="317.18" y="815.52" width="25.01" height="25.89" fill="#422ec0"/><rect x="342.13" y="815.52" width="25.01" height="25.89" fill="#4435d2"/><rect x="367.08" y="815.52" width="25.01" height="25.89" fill="#4435d2"/><rect x="392.04" y="815.52" width="25.01" height="25.89" fill="#4537d6"/><rect x="416.99" y="815.52" width="25.01" height="25.89" fill="#4433cd"/><rect x="441.94" y="815.52" width="25.01" height="25.89" fill="#1caadf"/><rect x="466.89" y="815.52" width="25.01" height="25.89" fill="#2a92ee"/><rect x="491.85" y="815.52" width="25.01" height="25.89" fill="#4742e6"/><rect x="516.80" y="815.52" width="25.01" height="25.89" fill="#4537d6"/><rect x="541.75" y="815.52" width="25.01" height="25.89" fill="#465efb"/><rect x="566.71" y="815.52" width="25.01" height="25.89" fill="#465ffb"/><rect x="591.66" y="815.52" width="25.01" height="25.89" fill="#4755f6"/><rect x="616.61" y="815.52" width="25.01" height="25.89" fill="#3974fe"/><rect x="641.57" y="815.52" width="25.01" height="25.89" fill="#3678fd"/><rect x="666.52" y="815.52" width="25.01" height="25.89" fill="#465efb"/><rect x="691.47" y="815.52" width="25.01" height="25.89" fill="#4850f2"/><rect x="716.42" y="815.52" width="25.01" height="25.89" fill="#4367fd"/><rect x="741.38" y="815.52" width="25.01" height="25.89" fill="#3876fe"/><rect x="766.33" y="815.52" width="25.01" height="25.89" fill="#4435d2"/><rect x="791.28" y="815.52" width="25.01" height="25.89" fill="#2fc5a2"/><rect x="816.24" y="815.52" width="25.01" height="25.89" fill="#2699ea"/><rect x="841.19" y="815.52" width="25.01" height="25.89" fill="#01b9c6"/><rect x="866.14" y="815.52" width="25.01" height="25.89" fill="#f9fb15"/><rect x="891.10" y="815.52" width="25.01" height="25.89" fill="#2d8af4"/><rect x="916.05" y="815.52" width="25.01" height="25.89" fill="#2699ea"/><rect x="941.00" y="815.52" width="25.01" height="25.89" fill="#2d88f6"/><rect x="965.96" y="815.52" width="25.01" height="25.89" fill="#4740e3"/><rect x="990.91" y="815.52" width="25.01" height="25.89" fill="#463de0"/><rect x="1015.86" y="815.52" width="25.01" height="25.89" fill="#475cfa"/><rect x="92.30" y="841.36" width="25.31" height="25.89" fill="#422ec0"/><rect x="117.55" y="841.36" width="25.01" height="25.89" fill="#422ec0"/><rect x="142.51" y="841.36" width="25.01" height="25.89" fill="#4742e6"/><rect x="167.46" y="841.36" width="25.01" height="25.89" fill="#3f29b1"/><rect x="192.41" y="841.36" width="25.01" height="25.89" fill="#4435d2"/><rect x="217.37" y="841.36" width="25.01" height="25.89" fill="#4332c9"/><rect x="242.32" y="841.36" width="25.01" height="25.89" fill="#4435d2"/><rect x="267.27" y="841.36" width="25.01" height="25.89" fill="#412cb9"/><rect x="292.22" y="841.36" width="25.01" height="25.89" fill="#422ec0"/><rect x="317.18" y="841.36" width="25.01" height="25.89" fill="#3f29b1"/><rect x="342.13" y="841.36" width="25.01" height="25.89" fill="#412dbc"/><rect x="367.08" y="841.36" width="25.01" height="25.89" fill="#412dbc"/><rect x="392.04" y="841.36" width="25.01" height="25.89" fill="#402ab5"/><rect x="416.99" y="841.36" width="25.01" height="25.89" fill="#402ab5"/><rect x="441.94" y="841.36" width="25.01" height="25.89" fill="#463de0"/><rect x="466.89" y="841.36" width="25.01" height="25.89" fill="#4537d6"/><rect x="491.85" y="841.36" width="25.01" height="25.89" fill="#463de0"/><rect x="516.80" y="841.36" width="25.01" height="25.89" fill="#463bdd"/><rect x="541.75" y="841.36" width="25.01" height="25.89" fill="#2e87f7"/><rect x="566.71" y="841.36" width="25.01" height="25.89" fill="#2d8df2"/><rect x="591.66" y="841.36" width="25.01" height="25.89" fill="#2895ec"/><rect x="616.61" y="841.36" width="25.01" height="25.89" fill="#2d88f6"/><rect x="641.57" y="841.36" width="25.01" height="25.89" fill="#2797eb"/><rect x="666.52" y="841.36" width="25.01" height="25.89" fill="#4367fd"/><rect x="691.47" y="841.36" width="25.01" height="25.89" fill="#463de0"/><rect x="716.42" y="841.36" width="25.01" height="25.89" fill="#412dbc"/><rect x="741.38" y="841.36" width="25.01" height="25.89" fill="#4747eb"/><rect x="766.33" y="841.36" width="25.01" height="25.89" fill="#3678fd"/><rect x="791.28" y="841.36" width="25.01" height="25.89" fill="#3f6eff"/><rect x="816.24" y="841.36" width="25.01" height="25.89" fill="#2e85f8"/><rect x="841.19" y="841.36" width="25.01" height="25.89" fill="#2797eb"/><rect x="866.14" y="841.36" width="25.01" height="25.89" fill="#2d8af4"/><rect x="891.10" y="841.36" width="25.01" height="25.89" fill="#f9fb15"/><rect x="916.05" y="841.36" width="25.01" height="25.89" fill="#3f6eff"/><rect x="941.00" y="841.36" width="25.01" height="25.89" fill="#4853f5"/><rect x="965.96" y="841.36" width="25.01" height="25.89" fill="#412dbc"/><rect x="990.91" y="841.36" width="25.01" height="25.89" fill="#4639d9"/><rect x="1015.86" y="841.36" width="25.01" height="25.89" fill="#4744e8"/><rect x="92.30" y="867.19" width="25.31" height="25.89" fill="#4332c9"/><rect x="117.55" y="867.19" width="25.01" height="25.89" fill="#4332c9"/><rect x="142.51" y="867.19" width="25.01" height="25.89" fill="#4742e6"/><rect x="167.46" y="867.19" width="25.01" height="25.89" fill="#422ec0"/><rect x="192.41" y="867.19" width="25.01" height="25.89" fill="#4639d9"/><rect x="217.37" y="867.19" width="25.01" height="25.89" fill="#484ef1"/><rect x="242.32" y="867.19" width="25.01" height="25.89" fill="#4747eb"/><rect x="267.27" y="867.19" width="25.01" height="25.89" fill="#484aee"/><rect x="292.22" y="867.19" width="25.01" height="25.89" fill="#484aee"/><rect x="317.18" y="867.19" width="25.01" height="25.89" fill="#484ef1"/><rect x="342.13" y="867.19" width="25.01" height="25.89" fill="#4639d9"/><rect x="367.08" y="867.19" width="25.01" height="25.89" fill="#484aee"/><rect x="392.04" y="867.19" width="25.01" height="25.89" fill="#4755f6"/><rect x="416.99" y="867.19" width="25.01" height="25.89" fill="#4848ec"/><rect x="441.94" y="867.19" width="25.01" height="25.89" fill="#484aee"/><rect x="466.89" y="867.19" width="25.01" height="25.89" fill="#484aee"/><rect x="491.85" y="867.19" width="25.01" height="25.89" fill="#4435d2"/><rect x="516.80" y="867.19" width="25.01" height="25.89" fill="#4639d9"/><rect x="541.75" y="867.19" width="25.01" height="25.89" fill="#484ef1"/><rect x="566.71" y="867.19" width="25.01" height="25.89" fill="#4747eb"/><rect x="591.66" y="867.19" width="25.01" height="25.89" fill="#4744e8"/><rect x="616.61" y="867.19" width="25.01" height="25.89" fill="#484ef1"/><rect x="641.57" y="867.19" width="25.01" height="25.89" fill="#317efb"/><rect x="666.52" y="867.19" width="25.01" height="25.89" fill="#4850f2"/><rect x="691.47" y="867.19" width="25.01" height="25.89" fill="#4850f2"/><rect x="716.42" y="867.19" width="25.01" height="25.89" fill="#4367fd"/><rect x="741.38" y="867.19" width="25.01" height="25.89" fill="#3f6eff"/><rect x="766.33" y="867.19" width="25.01" height="25.89" fill="#484cef"/><rect x="791.28" y="867.19" width="25.01" height="25.89" fill="#2d8cf3"/><rect x="816.24" y="867.19" width="25.01" height="25.89" fill="#259ce7"/><rect x="841.19" y="867.19" width="25.01" height="25.89" fill="#259ce7"/><rect x="866.14" y="867.19" width="25.01" height="25.89" fill="#2699ea"/><rect x="891.10" y="867.19" width="25.01" height="25.89" fill="#3f6eff"/><rect x="916.05" y="867.19" width="25.01" height="25.89" fill="#f9fb15"/><rect x="941.00" y="867.19" width="25.01" height="25.89" fill="#249fe6"/><rect x="965.96" y="867.19" width="25.01" height="25.89" fill="#4850f2"/><rect x="990.91" y="867.19" width="25.01" height="25.89" fill="#484ef1"/><rect x="1015.86" y="867.19" width="25.01" height="25.89" fill="#2f81fa"/><rect x="92.30" y="893.02" width="25.31" height="25.89" fill="#4332c9"/><rect x="117.55" y="893.02" width="25.01" height="25.89" fill="#422ec0"/><rect x="142.51" y="893.02" width="25.01" height="25.89" fill="#4747eb"/><rect x="167.46" y="893.02" width="25.01" height="25.89" fill="#3f29b1"/><rect x="192.41" y="893.02" width="25.01" height="25.89" fill="#463de0"/><rect x="217.37" y="893.02" width="25.01" height="25.89" fill="#484ef1"/><rect x="242.32" y="893.02" width="25.01" height="25.89" fill="#484aee"/><rect x="267.27" y="893.02" width="25.01" height="25.89" fill="#484ef1"/><rect x="292.22" y="893.02" width="25.01" height="25.89" fill="#484ef1"/><rect x="317.18" y="893.02" width="25.01" height="25.89" fill="#484ef1"/><rect x="342.13" y="893.02" width="25.01" height="25.89" fill="#4537d6"/><rect x="367.08" y="893.02" width="25.01" height="25.89" fill="#463de0"/><rect x="392.04" y="893.02" width="25.01" height="25.89" fill="#4851f4"/><rect x="416.99" y="893.02" width="25.01" height="25.89" fill="#4758f8"/><rect x="441.94" y="893.02" width="25.01" height="25.89" fill="#4747eb"/><rect x="466.89" y="893.02" width="25.01" height="25.89" fill="#463de0"/><rect x="491.85" y="893.02" width="25.01" height="25.89" fill="#422ec0"/><rect x="516.80" y="893.02" width="25.01" height="25.89" fill="#4742e6"/><rect x="541.75" y="893.02" width="25.01" height="25.89" fill="#4755f6"/><rect x="566.71" y="893.02" width="25.01" height="25.89" fill="#4850f2"/><rect x="591.66" y="893.02" width="25.01" height="25.89" fill="#484ef1"/><rect x="616.61" y="893.02" width="25.01" height="25.89" fill="#4848ec"/><rect x="641.57" y="893.02" width="25.01" height="25.89" fill="#4367fd"/><rect x="666.52" y="893.02" width="25.01" height="25.89" fill="#475af9"/><rect x="691.47" y="893.02" width="25.01" height="25.89" fill="#4758f8"/><rect x="716.42" y="893.02" width="25.01" height="25.89" fill="#2a92ee"/><rect x="741.38" y="893.02" width="25.01" height="25.89" fill="#317efb"/><rect x="766.33" y="893.02" width="25.01" height="25.89" fill="#4848ec"/><rect x="791.28" y="893.02" width="25.01" height="25.89" fill="#3080fb"/><rect x="816.24" y="893.02" width="25.01" height="25.89" fill="#22a1e4"/><rect x="841.19" y="893.02" width="25.01" height="25.89" fill="#269ae8"/><rect x="866.14" y="893.02" width="25.01" height="25.89" fill="#2d88f6"/><rect x="891.10" y="893.02" width="25.01" height="25.89" fill="#4853f5"/><rect x="916.05" y="893.02" width="25.01" height="25.89" fill="#249fe6"/><rect x="941.00" y="893.02" width="25.01" height="25.89" fill="#f9fb15"/><rect x="965.96" y="893.02" width="25.01" height="25.89" fill="#3678fd"/><rect x="990.91" y="893.02" width="25.01" height="25.89" fill="#4744e8"/><rect x="1015.86" y="893.02" width="25.01" height="25.89" fill="#2e85f8"/><rect x="92.30" y="918.86" width="25.31" height="25.89" fill="#3f29b1"/><rect x="117.55" y="918.86" width="25.01" height="25.89" fill="#412cb9"/><rect x="142.51" y="918.86" width="25.01" height="25.89" fill="#463de0"/><rect x="167.46" y="918.86" width="25.01" height="25.89" fill="#412cb9"/><rect x="192.41" y="918.86" width="25.01" height="25.89" fill="#4435d2"/><rect x="217.37" y="918.86" width="25.01" height="25.89" fill="#412cb9"/><rect x="242.32" y="918.86" width="25.01" height="25.89" fill="#4332c9"/><rect x="267.27" y="918.86" width="25.01" height="25.89" fill="#4742e6"/><rect x="292.22" y="918.86" width="25.01" height="25.89" fill="#4747eb"/><rect x="317.18" y="918.86" width="25.01" height="25.89" fill="#4747eb"/><rect x="342.13" y="918.86" width="25.01" height="25.89" fill="#412cb9"/><rect x="367.08" y="918.86" width="25.01" height="25.89" fill="#463bdd"/><rect x="392.04" y="918.86" width="25.01" height="25.89" fill="#412cb9"/><rect x="416.99" y="918.86" width="25.01" height="25.89" fill="#412cb9"/><rect x="441.94" y="918.86" width="25.01" height="25.89" fill="#4332c9"/><rect x="466.89" y="918.86" width="25.01" height="25.89" fill="#4433cd"/><rect x="491.85" y="918.86" width="25.01" height="25.89" fill="#412cb9"/><rect x="516.80" y="918.86" width="25.01" height="25.89" fill="#4433cd"/><rect x="541.75" y="918.86" width="25.01" height="25.89" fill="#4537d6"/><rect x="566.71" y="918.86" width="25.01" height="25.89" fill="#412dbc"/><rect x="591.66" y="918.86" width="25.01" height="25.89" fill="#422ec0"/><rect x="616.61" y="918.86" width="25.01" height="25.89" fill="#4332c9"/><rect x="641.57" y="918.86" width="25.01" height="25.89" fill="#4332c9"/><rect x="666.52" y="918.86" width="25.01" height="25.89" fill="#4537d6"/><rect x="691.47" y="918.86" width="25.01" height="25.89" fill="#4740e3"/><rect x="716.42" y="918.86" width="25.01" height="25.89" fill="#484aee"/><rect x="741.38" y="918.86" width="25.01" height="25.89" fill="#4742e6"/><rect x="766.33" y="918.86" width="25.01" height="25.89" fill="#412cb9"/><rect x="791.28" y="918.86" width="25.01" height="25.89" fill="#4747eb"/><rect x="816.24" y="918.86" width="25.01" height="25.89" fill="#4744e8"/><rect x="841.19" y="918.86" width="25.01" height="25.89" fill="#4744e8"/><rect x="866.14" y="918.86" width="25.01" height="25.89" fill="#4740e3"/><rect x="891.10" y="918.86" width="25.01" height="25.89" fill="#412dbc"/><rect x="916.05" y="918.86" width="25.01" height="25.89" fill="#4850f2"/><rect x="941.00" y="918.86" width="25.01" height="25.89" fill="#3678fd"/><rect x="965.96" y="918.86" width="25.01" height="25.89" fill="#f9fb15"/><rect x="990.91" y="918.86" width="25.01" height="25.89" fill="#4563fd"/><rect x="1015.86" y="918.86" width="25.01" height="25.89" fill="#4757f7"/><rect x="92.30" y="944.69" width="25.31" height="25.89" fill="#4435d2"/><rect x="117.55" y="944.69" width="25.01" height="25.89" fill="#412cb9"/><rect x="142.51" y="944.69" width="25.01" height="25.89" fill="#463de0"/><rect x="167.46" y="944.69" width="25.01" height="25.89" fill="#4435d2"/><rect x="192.41" y="944.69" width="25.01" height="25.89" fill="#4435d2"/><rect x="217.37" y="944.69" width="25.01" height="25.89" fill="#4435d2"/><rect x="242.32" y="944.69" width="25.01" height="25.89" fill="#4435d2"/><rect x="267.27" y="944.69" width="25.01" height="25.89" fill="#4332c9"/><rect x="292.22" y="944.69" width="25.01" height="25.89" fill="#422ec0"/><rect x="317.18" y="944.69" width="25.01" height="25.89" fill="#4332c9"/><rect x="342.13" y="944.69" width="25.01" height="25.89" fill="#4435d2"/><rect x="367.08" y="944.69" width="25.01" height="25.89" fill="#4332c9"/><rect x="392.04" y="944.69" width="25.01" height="25.89" fill="#484ef1"/><rect x="416.99" y="944.69" width="25.01" height="25.89" fill="#484aee"/><rect x="441.94" y="944.69" width="25.01" height="25.89" fill="#4332c9"/><rect x="466.89" y="944.69" width="25.01" height="25.89" fill="#4742e6"/><rect x="491.85" y="944.69" width="25.01" height="25.89" fill="#463de0"/><rect x="516.80" y="944.69" width="25.01" height="25.89" fill="#4740e3"/><rect x="541.75" y="944.69" width="25.01" height="25.89" fill="#4744e8"/><rect x="566.71" y="944.69" width="25.01" height="25.89" fill="#484ef1"/><rect x="591.66" y="944.69" width="25.01" height="25.89" fill="#463bdd"/><rect x="616.61" y="944.69" width="25.01" height="25.89" fill="#475af9"/><rect x="641.57" y="944.69" width="25.01" height="25.89" fill="#484ef1"/><rect x="666.52" y="944.69" width="25.01" height="25.89" fill="#4848ec"/><rect x="691.47" y="944.69" width="25.01" height="25.89" fill="#4435d2"/><rect x="716.42" y="944.69" width="25.01" height="25.89" fill="#4850f2"/><rect x="741.38" y="944.69" width="25.01" height="25.89" fill="#4853f5"/><rect x="766.33" y="944.69" width="25.01" height="25.89" fill="#4742e6"/><rect x="791.28" y="944.69" width="25.01" height="25.89" fill="#484ef1"/><rect x="816.24" y="944.69" width="25.01" height="25.89" fill="#484aee"/><rect x="841.19" y="944.69" width="25.01" height="25.89" fill="#484cef"/><rect x="866.14" y="944.69" width="25.01" height="25.89" fill="#463de0"/><rect x="891.10" y="944.69" width="25.01" height="25.89" fill="#4639d9"/><rect x="916.05" y="944.69" width="25.01" height="25.89" fill="#484ef1"/><rect x="941.00" y="944.69" width="25.01" height="25.89" fill="#4744e8"/><rect x="965.96" y="944.69" width="25.01" height="25.89" fill="#4563fd"/><rect x="990.91" y="944.69" width="25.01" height="25.89" fill="#f9fb15"/><rect x="1015.86" y="944.69" width="25.01" height="25.89" fill="#3f6eff"/><rect x="92.30" y="970.52" width="25.31" height="25.89" fill="#4332c9"/><rect x="117.55" y="970.52" width="25.01" height="25.89" fill="#412cb9"/><rect x="142.51" y="970.52" width="25.01" height="25.89" fill="#4755f6"/><rect x="167.46" y="970.52" width="25.01" height="25.89" fill="#412cb9"/><rect x="192.41" y="970.52" width="25.01" height="25.89" fill="#4742e6"/><rect x="217.37" y="970.52" width="25.01" height="25.89" fill="#4639d9"/><rect x="242.32" y="970.52" width="25.01" height="25.89" fill="#4742e6"/><rect x="267.27" y="970.52" width="25.01" height="25.89" fill="#484ef1"/><rect x="292.22" y="970.52" width="25.01" height="25.89" fill="#484ef1"/><rect x="317.18" y="970.52" width="25.01" height="25.89" fill="#4851f4"/><rect x="342.13" y="970.52" width="25.01" height="25.89" fill="#4332c9"/><rect x="367.08" y="970.52" width="25.01" height="25.89" fill="#4747eb"/><rect x="392.04" y="970.52" width="25.01" height="25.89" fill="#4742e6"/><rect x="416.99" y="970.52" width="25.01" height="25.89" fill="#4639d9"/><rect x="441.94" y="970.52" width="25.01" height="25.89" fill="#4851f4"/><rect x="466.89" y="970.52" width="25.01" height="25.89" fill="#4747eb"/><rect x="491.85" y="970.52" width="25.01" height="25.89" fill="#463de0"/><rect x="516.80" y="970.52" width="25.01" height="25.89" fill="#4740e3"/><rect x="541.75" y="970.52" width="25.01" height="25.89" fill="#4851f4"/><rect x="566.71" y="970.52" width="25.01" height="25.89" fill="#4850f2"/><rect x="591.66" y="970.52" width="25.01" height="25.89" fill="#484aee"/><rect x="616.61" y="970.52" width="25.01" height="25.89" fill="#4744e8"/><rect x="641.57" y="970.52" width="25.01" height="25.89" fill="#3f6eff"/><rect x="666.52" y="970.52" width="25.01" height="25.89" fill="#4758f8"/><rect x="691.47" y="970.52" width="25.01" height="25.89" fill="#422ec0"/><rect x="716.42" y="970.52" width="25.01" height="25.89" fill="#3b72ff"/><rect x="741.38" y="970.52" width="25.01" height="25.89" fill="#3b72ff"/><rect x="766.33" y="970.52" width="25.01" height="25.89" fill="#4740e3"/><rect x="791.28" y="970.52" width="25.01" height="25.89" fill="#475af9"/><rect x="816.24" y="970.52" width="25.01" height="25.89" fill="#465efb"/><rect x="841.19" y="970.52" width="25.01" height="25.89" fill="#4851f4"/><rect x="866.14" y="970.52" width="25.01" height="25.89" fill="#475cfa"/><rect x="891.10" y="970.52" width="25.01" height="25.89" fill="#4744e8"/><rect x="916.05" y="970.52" width="25.01" height="25.89" fill="#2f81fa"/><rect x="941.00" y="970.52" width="25.01" height="25.89" fill="#2e85f8"/><rect x="965.96" y="970.52" width="25.01" height="25.89" fill="#4757f7"/><rect x="990.91" y="970.52" width="25.01" height="25.89" fill="#3f6eff"/><rect x="1015.86" y="970.52" width="25.01" height="25.89" fill="#f9fb15"/><path d="M117.55 14.70V993.90M142.51 14.70V993.90M167.46 14.70V993.90M192.41 14.70V993.90M217.37 14.70V993.90M242.32 14.70V993.90M267.27 14.70V993.90M292.22 14.70V993.90M317.18 14.70V993.90M342.13 14.70V993.90M367.08 14.70V993.90M392.04 14.70V993.90M416.99 14.70V993.90M441.94 14.70V993.90M466.89 14.70V993.90M491.85 14.70V993.90M516.80 14.70V993.90M541.75 14.70V993.90M566.71 14.70V993.90M591.66 14.70V993.90M616.61 14.70V993.90M641.57 14.70V993.90M666.52 14.70V993.90M691.47 14.70V993.90M716.42 14.70V993.90M741.38 14.70V993.90M766.33 14.70V993.90M791.28 14.70V993.90M816.24 14.70V993.90M841.19 14.70V993.90M866.14 14.70V993.90M891.10 14.70V993.90M916.05 14.70V993.90M941.00 14.70V993.90M965.96 14.70V993.90M990.91 14.70V993.90M1015.86 14.70V993.90" stroke="#000" stroke-opacity="0.72" stroke-width="1.05" fill="none"/><path d="M92.60 40.53H1040.60M92.60 66.37H1040.60M92.60 92.20H1040.60M92.60 118.03H1040.60M92.60 143.86H1040.60M92.60 169.70H1040.60M92.60 195.53H1040.60M92.60 221.36H1040.60M92.60 247.20H1040.60M92.60 273.03H1040.60M92.60 298.86H1040.60M92.60 324.70H1040.60M92.60 350.53H1040.60M92.60 376.36H1040.60M92.60 402.19H1040.60M92.60 428.03H1040.60M92.60 453.86H1040.60M92.60 479.69H1040.60M92.60 505.53H1040.60M92.60 531.36H1040.60M92.60 557.19H1040.60M92.60 583.03H1040.60M92.60 608.86H1040.60M92.60 634.69H1040.60M92.60 660.52H1040.60M92.60 686.36H1040.60M92.60 712.19H1040.60M92.60 738.02H1040.60M92.60 763.86H1040.60M92.60 789.69H1040.60M92.60 815.52H1040.60M92.60 841.36H1040.60M92.60 867.19H1040.60M92.60 893.02H1040.60M92.60 918.86H1040.60M92.60 944.69H1040.60M92.60 970.52H1040.60" stroke="#000" stroke-opacity="0.62" stroke-width="1.05" fill="none"/></g><path d="M92.60 14.6H1040.60" stroke="#000" stroke-opacity="0.45" stroke-width="1" fill="none"/><path d="M92.4 14.2V993.90" stroke="#000" stroke-width="1.3" fill="none"/><g transform="translate(80.60,27.05)" fill="#262626"><path d="M-8.67 0.00L-5.86 0.00L-5.86 -22.91L-6.75 -22.91Q-10.27 -20.00 -14.34 -17.44L-14.46 -15.04Q-11.23 -16.64 -8.67 -18.72Z"/></g><g transform="translate(80.60,78.73)" fill="#262626"><text x="-17.79" y="0" font-size="32.0">3</text></g><g transform="translate(80.60,130.41)" fill="#262626"><text x="-17.79" y="0" font-size="32.0">5</text></g><g transform="translate(80.60,182.09)" fill="#262626"><text x="-17.79" y="0" font-size="32.0">7</text></g><g transform="translate(80.60,233.77)" fill="#262626"><text x="-17.79" y="0" font-size="32.0">9</text></g><g transform="translate(80.60,285.45)" fill="#262626"><path d="M-26.46 0.00L-23.65 0.00L-23.65 -22.91L-24.54 -22.91Q-28.06 -20.00 -32.13 -17.44L-32.26 -15.04Q-29.02 -16.64 -26.46 -18.72ZM-8.67 0.00L-5.86 0.00L-5.86 -22.91L-6.75 -22.91Q-10.27 -20.00 -14.34 -17.44L-14.46 -15.04Q-11.23 -16.64 -8.67 -18.72Z"/></g><g transform="translate(80.60,337.13)" fill="#262626"><text x="-17.79" y="0" font-size="32.0">3</text><path d="M-26.46 0.00L-23.65 0.00L-23.65 -22.91L-24.54 -22.91Q-28.06 -20.00 -32.13 -17.44L-32.26 -15.04Q-29.02 -16.64 -26.46 -18.72Z"/></g><g transform="translate(80.60,388.81)" fill="#262626"><text x="-17.79" y="0" font-size="32.0">5</text><path d="M-26.46 0.00L-23.65 0.00L-23.65 -22.91L-24.54 -22.91Q-28.06 -20.00 -32.13 -17.44L-32.26 -15.04Q-29.02 -16.64 -26.46 -18.72Z"/></g><g transform="translate(80.60,440.49)" fill="#262626"><text x="-17.79" y="0" font-size="32.0">7</text><path d="M-26.46 0.00L-23.65 0.00L-23.65 -22.91L-24.54 -22.91Q-28.06 -20.00 -32.13 -17.44L-32.26 -15.04Q-29.02 -16.64 -26.46 -18.72Z"/></g><g transform="translate(80.60,492.17)" fill="#262626"><text x="-17.79" y="0" font-size="32.0">9</text><path d="M-26.46 0.00L-23.65 0.00L-23.65 -22.91L-24.54 -22.91Q-28.06 -20.00 -32.13 -17.44L-32.26 -15.04Q-29.02 -16.64 -26.46 -18.72Z"/></g><g transform="translate(80.60,543.85)" fill="#262626"><text x="-35.58" y="0" font-size="32.0">2</text><path d="M-8.67 0.00L-5.86 0.00L-5.86 -22.91L-6.75 -22.91Q-10.27 -20.00 -14.34 -17.44L-14.46 -15.04Q-11.23 -16.64 -8.67 -18.72Z"/></g><g transform="translate(80.60,595.53)" fill="#262626"><text x="-35.58" y="0" font-size="32.0">2</text><text x="-17.79" y="0" font-size="32.0">3</text></g><g transform="translate(80.60,647.21)" fill="#262626"><text x="-35.58" y="0" font-size="32.0">2</text><text x="-17.79" y="0" font-size="32.0">5</text></g><g transform="translate(80.60,698.89)" fill="#262626"><text x="-35.58" y="0" font-size="32.0">2</text><text x="-17.79" y="0" font-size="32.0">7</text></g><g transform="translate(80.60,750.57)" fill="#262626"><text x="-35.58" y="0" font-size="32.0">2</text><text x="-17.79" y="0" font-size="32.0">9</text></g><g transform="translate(80.60,802.25)" fill="#262626"><text x="-35.58" y="0" font-size="32.0">3</text><path d="M-8.67 0.00L-5.86 0.00L-5.86 -22.91L-6.75 -22.91Q-10.27 -20.00 -14.34 -17.44L-14.46 -15.04Q-11.23 -16.64 -8.67 -18.72Z"/></g><g transform="translate(80.60,853.93)" fill="#262626"><text x="-35.58" y="0" font-size="32.0">3</text><text x="-17.79" y="0" font-size="32.0">3</text></g><g transform="translate(80.60,905.61)" fill="#262626"><text x="-35.58" y="0" font-size="32.0">3</text><text x="-17.79" y="0" font-size="32.0">5</text></g><g transform="translate(80.60,957.29)" fill="#262626"><text x="-35.58" y="0" font-size="32.0">3</text><text x="-17.79" y="0" font-size="32.0">7</text></g><g transform="translate(115.23,1028.40) rotate(-45)" fill="#262626"><path d="M-8.67 0.00L-5.86 0.00L-5.86 -22.91L-6.75 -22.91Q-10.27 -20.00 -14.34 -17.44L-14.46 -15.04Q-11.23 -16.64 -8.67 -18.72Z"/></g><g transform="translate(165.11,1028.40) rotate(-45)" fill="#262626"><text x="-17.79" y="0" font-size="32.0">3</text></g><g transform="translate(214.99,1028.40) rotate(-45)" fill="#262626"><text x="-17.79" y="0" font-size="32.0">5</text></g><g transform="translate(264.87,1028.40) rotate(-45)" fill="#262626"><text x="-17.79" y="0" font-size="32.0">7</text></g><g transform="translate(314.75,1028.40) rotate(-45)" fill="#262626"><text x="-17.79" y="0" font-size="32.0">9</text></g><g transform="translate(364.63,1028.40) rotate(-45)" fill="#262626"><path d="M-26.46 0.00L-23.65 0.00L-23.65 -22.91L-24.54 -22.91Q-28.06 -20.00 -32.13 -17.44L-32.26 -15.04Q-29.02 -16.64 -26.46 -18.72ZM-8.67 0.00L-5.86 0.00L-5.86 -22.91L-6.75 -22.91Q-10.27 -20.00 -14.34 -17.44L-14.46 -15.04Q-11.23 -16.64 -8.67 -18.72Z"/></g><g transform="translate(414.51,1028.40) rotate(-45)" fill="#262626"><text x="-17.79" y="0" font-size="32.0">3</text><path d="M-26.46 0.00L-23.65 0.00L-23.65 -22.91L-24.54 -22.91Q-28.06 -20.00 -32.13 -17.44L-32.26 -15.04Q-29.02 -16.64 -26.46 -18.72Z"/></g><g transform="translate(464.39,1028.40) rotate(-45)" fill="#262626"><text x="-17.79" y="0" font-size="32.0">5</text><path d="M-26.46 0.00L-23.65 0.00L-23.65 -22.91L-24.54 -22.91Q-28.06 -20.00 -32.13 -17.44L-32.26 -15.04Q-29.02 -16.64 -26.46 -18.72Z"/></g><g transform="translate(514.27,1028.40) rotate(-45)" fill="#262626"><text x="-17.79" y="0" font-size="32.0">7</text><path d="M-26.46 0.00L-23.65 0.00L-23.65 -22.91L-24.54 -22.91Q-28.06 -20.00 -32.13 -17.44L-32.26 -15.04Q-29.02 -16.64 -26.46 -18.72Z"/></g><g transform="translate(564.15,1028.40) rotate(-45)" fill="#262626"><text x="-17.79" y="0" font-size="32.0">9</text><path d="M-26.46 0.00L-23.65 0.00L-23.65 -22.91L-24.54 -22.91Q-28.06 -20.00 -32.13 -17.44L-32.26 -15.04Q-29.02 -16.64 -26.46 -18.72Z"/></g><g transform="translate(614.03,1028.40) rotate(-45)" fill="#262626"><text x="-35.58" y="0" font-size="32.0">2</text><path d="M-8.67 0.00L-5.86 0.00L-5.86 -22.91L-6.75 -22.91Q-10.27 -20.00 -14.34 -17.44L-14.46 -15.04Q-11.23 -16.64 -8.67 -18.72Z"/></g><g transform="translate(663.91,1028.40) rotate(-45)" fill="#262626"><text x="-35.58" y="0" font-size="32.0">2</text><text x="-17.79" y="0" font-size="32.0">3</text></g><g transform="translate(713.79,1028.40) rotate(-45)" fill="#262626"><text x="-35.58" y="0" font-size="32.0">2</text><text x="-17.79" y="0" font-size="32.0">5</text></g><g transform="translate(763.67,1028.40) rotate(-45)" fill="#262626"><text x="-35.58" y="0" font-size="32.0">2</text><text x="-17.79" y="0" font-size="32.0">7</text></g><g transform="translate(813.55,1028.40) rotate(-45)" fill="#262626"><text x="-35.58" y="0" font-size="32.0">2</text><text x="-17.79" y="0" font-size="32.0">9</text></g><g transform="translate(863.43,1028.40) rotate(-45)" fill="#262626"><text x="-35.58" y="0" font-size="32.0">3</text><path d="M-8.67 0.00L-5.86 0.00L-5.86 -22.91L-6.75 -22.91Q-10.27 -20.00 -14.34 -17.44L-14.46 -15.04Q-11.23 -16.64 -8.67 -18.72Z"/></g><g transform="translate(913.31,1028.40) rotate(-45)" fill="#262626"><text x="-35.58" y="0" font-size="32.0">3</text><text x="-17.79" y="0" font-size="32.0">3</text></g><g transform="translate(963.19,1028.40) rotate(-45)" fill="#262626"><text x="-35.58" y="0" font-size="32.0">3</text><text x="-17.79" y="0" font-size="32.0">5</text></g><g transform="translate(1013.07,1028.40) rotate(-45)" fill="#262626"><text x="-35.58" y="0" font-size="32.0">3</text><text x="-17.79" y="0" font-size="32.0">7</text></g><text x="566.30" y="1097.6" font-size="35.8" text-anchor="middle" fill="#262626">Tool/Strategy ID</text><text transform="translate(31.1,503.7) rotate(-90)" font-size="35.8" text-anchor="middle" fill="#262626">Tool/Strategy ID</text><rect x="1091.4" y="14.0" width="34.0" height="979.5" fill="url(#cb)"/><path d="M1091.1 13.6V993.9M1125.8 13.6V993.9" stroke="#000" stroke-width="1.5" stroke-opacity="0.9" fill="none"/><path d="M1090.4 13.6H1126.5" stroke="#000" stroke-width="1" stroke-opacity="0.4" fill="none"/><path d="M1090.4 993.3H1126.5" stroke="#000" stroke-width="1" stroke-opacity="0.7" fill="none"/><path d="M1116.3 896.29H1125.5" stroke="#000" stroke-opacity="0.85" stroke-width="1.2"/><g transform="translate(1136.30,906.94)" fill="#262626"><text x="0.00" y="0" font-size="28.4">0</text><text x="15.79" y="0" font-size="28.4">.</text><path d="M31.78 0.00L34.28 0.00L34.28 -20.33L33.48 -20.33Q30.36 -17.75 26.75 -15.48L26.64 -13.35Q29.51 -14.77 31.78 -16.61Z"/></g><path d="M1116.3 798.29H1125.5" stroke="#000" stroke-opacity="0.85" stroke-width="1.2"/><g transform="translate(1136.30,808.94)" fill="#262626"><text x="0.00" y="0" font-size="28.4">0</text><text x="15.79" y="0" font-size="28.4">.</text><text x="23.69" y="0" font-size="28.4">2</text></g><path d="M1116.3 700.29H1125.5" stroke="#000" stroke-opacity="0.85" stroke-width="1.2"/><g transform="translate(1136.30,710.94)" fill="#262626"><text x="0.00" y="0" font-size="28.4">0</text><text x="15.79" y="0" font-size="28.4">.</text><text x="23.69" y="0" font-size="28.4">3</text></g><path d="M1116.3 602.29H1125.5" stroke="#000" stroke-opacity="0.85" stroke-width="1.2"/><g transform="translate(1136.30,612.95)" fill="#262626"><text x="0.00" y="0" font-size="28.4">0</text><text x="15.79" y="0" font-size="28.4">.</text><text x="23.69" y="0" font-size="28.4">4</text></g><path d="M1116.3 504.29H1125.5" stroke="#000" stroke-opacity="0.85" stroke-width="1.2"/><g transform="translate(1136.30,514.95)" fill="#262626"><text x="0.00" y="0" font-size="28.4">0</text><text x="15.79" y="0" font-size="28.4">.</text><text x="23.69" y="0" font-size="28.4">5</text></g><path d="M1116.3 406.29H1125.5" stroke="#000" stroke-opacity="0.85" stroke-width="1.2"/><g transform="translate(1136.30,416.95)" fill="#262626"><text x="0.00" y="0" font-size="28.4">0</text><text x="15.79" y="0" font-size="28.4">.</text><text x="23.69" y="0" font-size="28.4">6</text></g><path d="M1116.3 308.30H1125.5" stroke="#000" stroke-opacity="0.85" stroke-width="1.2"/><g transform="translate(1136.30,318.95)" fill="#262626"><text x="0.00" y="0" font-size="28.4">0</text><text x="15.79" y="0" font-size="28.4">.</text><text x="23.69" y="0" font-size="28.4">7</text></g><path d="M1116.3 210.30H1125.5" stroke="#000" stroke-opacity="0.85" stroke-width="1.2"/><g transform="translate(1136.30,220.95)" fill="#262626"><text x="0.00" y="0" font-size="28.4">0</text><text x="15.79" y="0" font-size="28.4">.</text><text x="23.69" y="0" font-size="28.4">8</text></g><path d="M1116.3 112.30H1125.5" stroke="#000" stroke-opacity="0.85" stroke-width="1.2"/><g transform="translate(1136.30,122.95)" fill="#262626"><text x="0.00" y="0" font-size="28.4">0</text><text x="15.79" y="0" font-size="28.4">.</text><text x="23.69" y="0" font-size="28.4">9</text></g><g transform="translate(1136.30,24.96)" fill="#262626"><path d="M8.09 0.00L10.59 0.00L10.59 -20.33L9.80 -20.33Q6.67 -17.75 3.07 -15.48L2.95 -13.35Q5.82 -14.77 8.09 -16.61Z"/></g></svg>
</body></html>
